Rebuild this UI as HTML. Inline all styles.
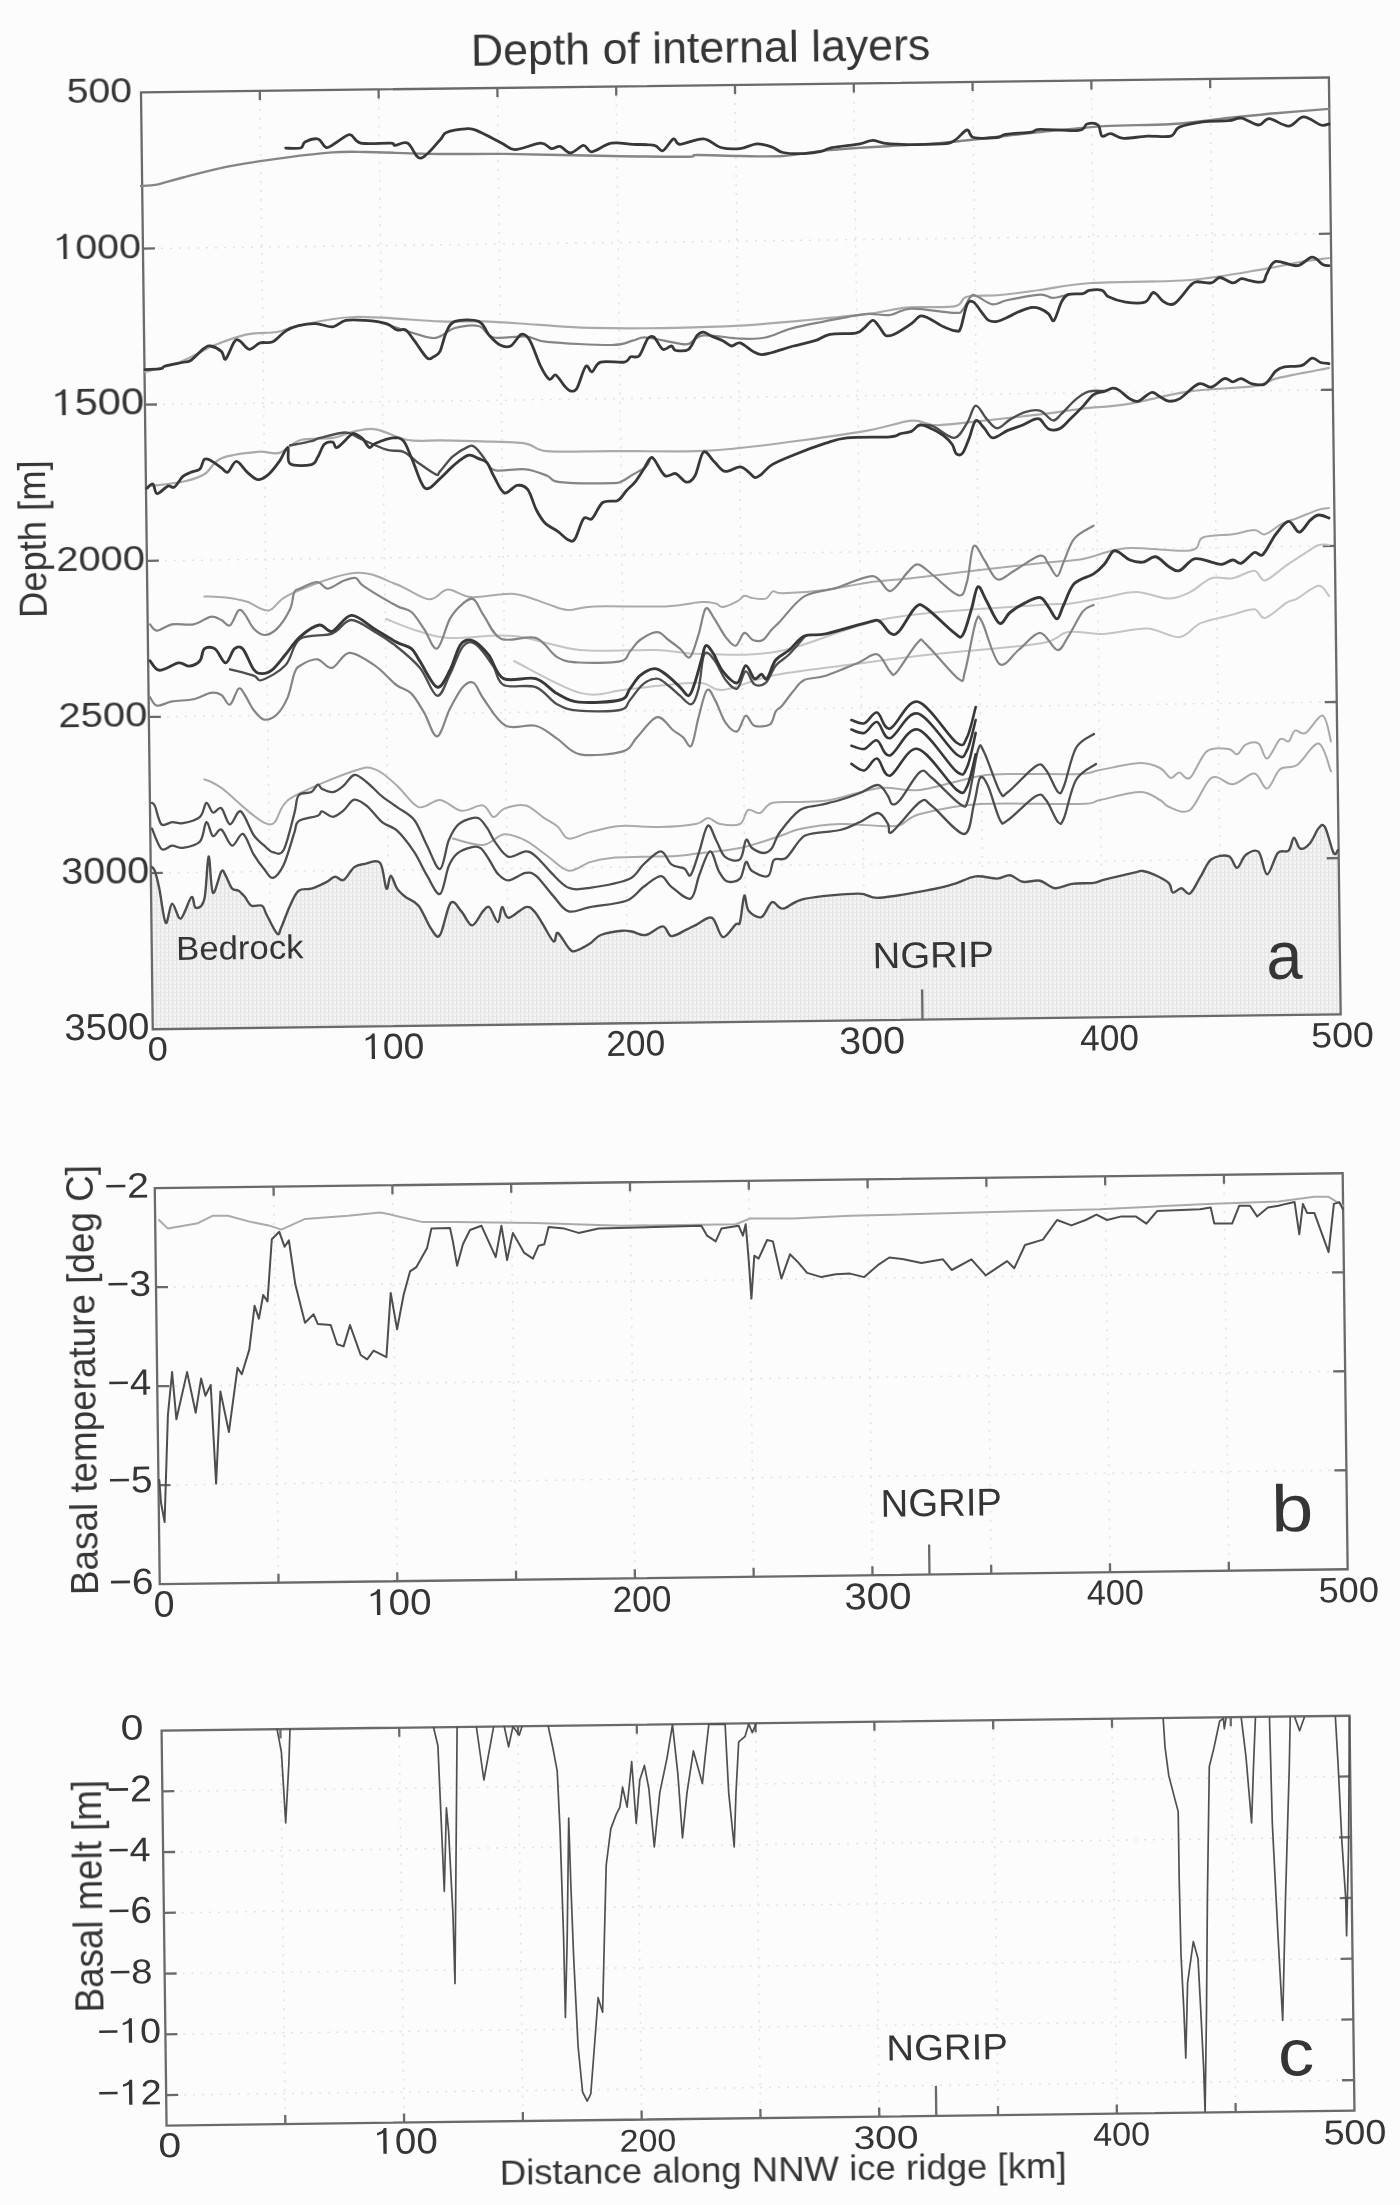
<!DOCTYPE html><html><head><meta charset="utf-8"><style>html,body{margin:0;padding:0;background:#fcfcfc;}svg{display:block;}text{font-family:"Liberation Sans",sans-serif;}</style></head><body>
<svg width="1400" height="2205" viewBox="0 0 1400 2205">
<rect width="1400" height="2205" fill="#fcfcfc"/>
<defs><filter id="sb" filterUnits="userSpaceOnUse" x="0" y="0" width="1400" height="2205" color-interpolation-filters="sRGB"><feGaussianBlur stdDeviation="0.55"/></filter></defs><g filter="url(#sb)">
<g transform="rotate(-0.72 141 92.5)" fill="none">
<g stroke="#e2e2e2" stroke-width="1.5" stroke-dasharray="2 7">
<line x1="259.8" y1="92.4" x2="259.8" y2="1029.3"/>
<line x1="378.6" y1="92.4" x2="378.6" y2="1029.3"/>
<line x1="497.4" y1="92.4" x2="497.4" y2="1029.3"/>
<line x1="616.2" y1="92.4" x2="616.2" y2="1029.3"/>
<line x1="735.0" y1="92.4" x2="735.0" y2="1029.3"/>
<line x1="853.8" y1="92.4" x2="853.8" y2="1029.3"/>
<line x1="972.6" y1="92.4" x2="972.6" y2="1029.3"/>
<line x1="1091.4" y1="92.4" x2="1091.4" y2="1029.3"/>
<line x1="1210.2" y1="92.4" x2="1210.2" y2="1029.3"/>
<line x1="141" y1="248.6" x2="1329" y2="248.6"/>
<line x1="141" y1="404.7" x2="1329" y2="404.7"/>
<line x1="141" y1="560.9" x2="1329" y2="560.9"/>
<line x1="141" y1="717.0" x2="1329" y2="717.0"/>
<line x1="141" y1="873.1" x2="1329" y2="873.1"/>
<line x1="259.8" y1="1188.3" x2="259.8" y2="1584.3"/>
<line x1="378.6" y1="1188.3" x2="378.6" y2="1584.3"/>
<line x1="497.4" y1="1188.3" x2="497.4" y2="1584.3"/>
<line x1="616.2" y1="1188.3" x2="616.2" y2="1584.3"/>
<line x1="735.0" y1="1188.3" x2="735.0" y2="1584.3"/>
<line x1="853.8" y1="1188.3" x2="853.8" y2="1584.3"/>
<line x1="972.6" y1="1188.3" x2="972.6" y2="1584.3"/>
<line x1="1091.4" y1="1188.3" x2="1091.4" y2="1584.3"/>
<line x1="1210.2" y1="1188.3" x2="1210.2" y2="1584.3"/>
<line x1="141" y1="1287.3" x2="1329" y2="1287.3"/>
<line x1="141" y1="1386.3" x2="1329" y2="1386.3"/>
<line x1="141" y1="1485.3" x2="1329" y2="1485.3"/>
<line x1="259.8" y1="1730.8" x2="259.8" y2="2125.7"/>
<line x1="378.6" y1="1730.8" x2="378.6" y2="2125.7"/>
<line x1="497.4" y1="1730.8" x2="497.4" y2="2125.7"/>
<line x1="616.2" y1="1730.8" x2="616.2" y2="2125.7"/>
<line x1="735.0" y1="1730.8" x2="735.0" y2="2125.7"/>
<line x1="853.8" y1="1730.8" x2="853.8" y2="2125.7"/>
<line x1="972.6" y1="1730.8" x2="972.6" y2="2125.7"/>
<line x1="1091.4" y1="1730.8" x2="1091.4" y2="2125.7"/>
<line x1="1210.2" y1="1730.8" x2="1210.2" y2="2125.7"/>
<line x1="141" y1="1791.5" x2="1329" y2="1791.5"/>
<line x1="141" y1="1852.3" x2="1329" y2="1852.3"/>
<line x1="141" y1="1913.0" x2="1329" y2="1913.0"/>
<line x1="141" y1="1973.8" x2="1329" y2="1973.8"/>
<line x1="141" y1="2034.5" x2="1329" y2="2034.5"/>
<line x1="141" y1="2095.2" x2="1329" y2="2095.2"/>
</g>
</g>
<defs><pattern id="ht" x="0" y="0" width="4" height="4" patternUnits="userSpaceOnUse"><rect width="4" height="4" fill="#f4f4f5"/><rect x="0" y="0" width="1.2" height="4" fill="#e2e2e4"/><rect x="0" y="0" width="4" height="1" fill="#e8e8ea"/></pattern></defs>
<polygon points="152.0,867.1 155.0,871.4 159.3,888.6 165.7,922.8 172.1,903.6 180.7,918.6 191.4,897.1 195.7,907.8 204.3,899.3 208.6,856.4 212.9,892.8 221.4,871.4 225.7,875.7 232.1,888.6 238.6,890.7 245.0,897.1 251.4,905.7 262.1,905.7 266.4,914.3 277.1,933.6 281.4,927.1 290.0,905.7 298.6,890.7 311.4,888.6 326.4,882.1 335.0,876.8 343.6,880.0 354.3,867.1 365.0,863.9 380.0,862.8 386.4,888.6 390.7,875.7 397.1,888.6 405.7,897.1 418.6,905.7 431.4,929.3 440.0,935.0 450.7,902.9 461.4,911.4 472.1,925.4 482.9,911.4 489.3,907.1 497.9,922.1 502.1,907.1 508.6,917.8 525.7,907.1 534.3,911.4 542.9,924.3 553.6,941.4 557.8,932.8 568.6,947.8 575.0,951.1 590.0,943.6 600.7,935.0 622.1,930.7 632.8,931.8 645.7,935.0 662.8,926.4 671.4,936.1 686.4,929.6 697.1,924.3 712.1,917.8 722.8,937.1 735.7,924.3 740.0,922.1 744.3,895.7 748.6,910.7 761.4,917.1 772.1,902.1 782.9,908.6 804.3,898.9 857.9,893.6 879.3,897.8 932.8,889.3 954.3,883.9 975.7,876.4 997.1,878.6 1010.0,875.3 1022.8,881.8 1040.0,880.7 1055.0,888.2 1072.1,883.9 1093.6,882.9 1104.3,879.6 1136.4,872.1 1142.9,871.0 1153.6,874.3 1168.6,882.9 1172.8,892.5 1181.4,888.2 1190.0,893.6 1200.7,876.4 1211.4,859.3 1228.6,856.1 1237.1,867.8 1245.7,855.0 1258.6,851.8 1267.1,874.3 1277.9,852.9 1288.6,850.7 1293.9,837.8 1300.3,848.6 1310.0,843.2 1318.6,828.2 1325.0,827.1 1333.6,852.9 1338.0,850.0 1341.0,1015.0 153.6,1028.6" fill="url(#ht)" stroke="none"/>
<g transform="rotate(-0.72 141 92.5)" fill="none">
<g stroke="#6a6a6a" stroke-width="2.3">
<rect x="141" y="92.4" width="1188" height="936.9"/>
<line x1="259.8" y1="92.4" x2="259.8" y2="101.4"/>
<line x1="378.6" y1="92.4" x2="378.6" y2="101.4"/>
<line x1="497.4" y1="92.4" x2="497.4" y2="101.4"/>
<line x1="616.2" y1="92.4" x2="616.2" y2="101.4"/>
<line x1="735.0" y1="92.4" x2="735.0" y2="101.4"/>
<line x1="853.8" y1="92.4" x2="853.8" y2="101.4"/>
<line x1="972.6" y1="92.4" x2="972.6" y2="101.4"/>
<line x1="1091.4" y1="92.4" x2="1091.4" y2="101.4"/>
<line x1="1210.2" y1="92.4" x2="1210.2" y2="101.4"/>
<line x1="141" y1="248.6" x2="153" y2="248.6"/><line x1="1329" y1="248.6" x2="1317" y2="248.6"/>
<line x1="141" y1="404.7" x2="153" y2="404.7"/><line x1="1329" y1="404.7" x2="1317" y2="404.7"/>
<line x1="141" y1="560.9" x2="153" y2="560.9"/><line x1="1329" y1="560.9" x2="1317" y2="560.9"/>
<line x1="141" y1="717.0" x2="153" y2="717.0"/><line x1="1329" y1="717.0" x2="1317" y2="717.0"/>
<line x1="141" y1="873.1" x2="153" y2="873.1"/><line x1="1329" y1="873.1" x2="1317" y2="873.1"/>
<line x1="910.8" y1="1029.3" x2="910.8" y2="999.3"/>
<rect x="141" y="1188.3" width="1188" height="396.0"/>
<line x1="259.8" y1="1188.3" x2="259.8" y2="1197.3"/>
<line x1="259.8" y1="1584.3" x2="259.8" y2="1575.3"/>
<line x1="378.6" y1="1188.3" x2="378.6" y2="1197.3"/>
<line x1="378.6" y1="1584.3" x2="378.6" y2="1575.3"/>
<line x1="497.4" y1="1188.3" x2="497.4" y2="1197.3"/>
<line x1="497.4" y1="1584.3" x2="497.4" y2="1575.3"/>
<line x1="616.2" y1="1188.3" x2="616.2" y2="1197.3"/>
<line x1="616.2" y1="1584.3" x2="616.2" y2="1575.3"/>
<line x1="735.0" y1="1188.3" x2="735.0" y2="1197.3"/>
<line x1="735.0" y1="1584.3" x2="735.0" y2="1575.3"/>
<line x1="853.8" y1="1188.3" x2="853.8" y2="1197.3"/>
<line x1="853.8" y1="1584.3" x2="853.8" y2="1575.3"/>
<line x1="972.6" y1="1188.3" x2="972.6" y2="1197.3"/>
<line x1="972.6" y1="1584.3" x2="972.6" y2="1575.3"/>
<line x1="1091.4" y1="1188.3" x2="1091.4" y2="1197.3"/>
<line x1="1091.4" y1="1584.3" x2="1091.4" y2="1575.3"/>
<line x1="1210.2" y1="1188.3" x2="1210.2" y2="1197.3"/>
<line x1="1210.2" y1="1584.3" x2="1210.2" y2="1575.3"/>
<line x1="141" y1="1287.3" x2="153" y2="1287.3"/><line x1="1329" y1="1287.3" x2="1317" y2="1287.3"/>
<line x1="141" y1="1386.3" x2="153" y2="1386.3"/><line x1="1329" y1="1386.3" x2="1317" y2="1386.3"/>
<line x1="141" y1="1485.3" x2="153" y2="1485.3"/><line x1="1329" y1="1485.3" x2="1317" y2="1485.3"/>
<line x1="910.8" y1="1584.3" x2="910.8" y2="1554.3"/>
<rect x="141" y="1730.8" width="1188" height="394.89999999999986"/>
<line x1="259.8" y1="1730.8" x2="259.8" y2="1739.8"/>
<line x1="259.8" y1="2125.7" x2="259.8" y2="2116.7"/>
<line x1="378.6" y1="1730.8" x2="378.6" y2="1739.8"/>
<line x1="378.6" y1="2125.7" x2="378.6" y2="2116.7"/>
<line x1="497.4" y1="1730.8" x2="497.4" y2="1739.8"/>
<line x1="497.4" y1="2125.7" x2="497.4" y2="2116.7"/>
<line x1="616.2" y1="1730.8" x2="616.2" y2="1739.8"/>
<line x1="616.2" y1="2125.7" x2="616.2" y2="2116.7"/>
<line x1="735.0" y1="1730.8" x2="735.0" y2="1739.8"/>
<line x1="735.0" y1="2125.7" x2="735.0" y2="2116.7"/>
<line x1="853.8" y1="1730.8" x2="853.8" y2="1739.8"/>
<line x1="853.8" y1="2125.7" x2="853.8" y2="2116.7"/>
<line x1="972.6" y1="1730.8" x2="972.6" y2="1739.8"/>
<line x1="972.6" y1="2125.7" x2="972.6" y2="2116.7"/>
<line x1="1091.4" y1="1730.8" x2="1091.4" y2="1739.8"/>
<line x1="1091.4" y1="2125.7" x2="1091.4" y2="2116.7"/>
<line x1="1210.2" y1="1730.8" x2="1210.2" y2="1739.8"/>
<line x1="1210.2" y1="2125.7" x2="1210.2" y2="2116.7"/>
<line x1="141" y1="1791.5" x2="153" y2="1791.5"/><line x1="1329" y1="1791.5" x2="1317" y2="1791.5"/>
<line x1="141" y1="1852.3" x2="153" y2="1852.3"/><line x1="1329" y1="1852.3" x2="1317" y2="1852.3"/>
<line x1="141" y1="1913.0" x2="153" y2="1913.0"/><line x1="1329" y1="1913.0" x2="1317" y2="1913.0"/>
<line x1="141" y1="1973.8" x2="153" y2="1973.8"/><line x1="1329" y1="1973.8" x2="1317" y2="1973.8"/>
<line x1="141" y1="2034.5" x2="153" y2="2034.5"/><line x1="1329" y1="2034.5" x2="1317" y2="2034.5"/>
<line x1="141" y1="2095.2" x2="153" y2="2095.2"/><line x1="1329" y1="2095.2" x2="1317" y2="2095.2"/>
<line x1="910.8" y1="2125.7" x2="910.8" y2="2095.7"/>
</g></g>
<path d="M141.0,186.0 C143.7,185.8 150.0,186.0 157.0,184.6 C164.0,183.2 170.7,180.6 182.9,177.5 C195.1,174.4 212.9,169.4 230.0,166.1 C247.1,162.8 268.6,159.9 285.7,157.6 C302.8,155.3 319.6,153.3 332.8,152.4 C346.0,151.5 347.1,151.7 365.0,152.0 C382.9,152.3 416.8,153.7 440.0,154.0 C463.2,154.3 475.7,153.6 504.3,153.9 C532.9,154.2 581.0,155.5 611.4,156.0 C641.8,156.5 672.1,156.9 686.4,156.7 C700.7,156.5 688.1,155.1 697.0,155.0 C705.9,154.9 725.7,155.8 740.0,156.0 C754.3,156.2 768.7,156.9 783.0,156.0 C797.3,155.1 807.9,152.1 825.7,150.4 C843.5,148.7 870.7,147.2 890.0,146.0 C909.3,144.8 916.4,145.2 941.4,142.9 C966.4,140.6 1012.9,134.8 1040.0,132.0 C1067.2,129.2 1082.2,127.4 1104.3,126.1 C1126.4,124.8 1151.4,125.4 1172.8,124.0 C1194.2,122.6 1215.6,119.3 1232.8,117.5 C1250.0,115.7 1259.7,114.6 1275.7,113.2 C1291.7,111.8 1320.1,109.6 1329.0,108.9" fill="none" stroke="#858585" stroke-width="2.4" stroke-linejoin="round" stroke-linecap="round" />
<path d="M285.7,148.1 C288.2,148.1 297.5,149.0 300.7,148.0 C303.9,147.0 302.1,143.5 305.0,142.0 C307.9,140.5 314.4,138.1 318.0,139.0 C321.6,139.9 323.2,147.0 326.4,147.5 C329.6,148.0 333.1,144.2 337.0,142.0 C340.9,139.8 346.1,134.4 350.0,134.6 C353.9,134.8 353.9,141.8 360.7,143.2 C367.5,144.6 385.0,142.8 390.7,143.2 C396.4,143.6 392.1,145.4 395.0,145.4 C397.9,145.4 403.5,141.1 407.8,143.2 C412.1,145.3 415.3,158.7 420.7,158.2 C426.1,157.7 435.7,144.3 440.0,140.0 C444.3,135.7 442.1,134.3 446.4,132.5 C450.7,130.7 460.7,129.2 465.7,128.9 C470.7,128.6 470.3,128.0 476.4,130.4 C482.4,132.8 495.6,140.0 502.0,143.2 C508.4,146.4 508.6,149.6 515.0,149.6 C521.5,149.6 534.6,143.4 540.7,143.2 C546.8,143.0 548.2,148.1 551.4,148.6 C554.6,149.1 556.8,145.7 560.0,146.4 C563.2,147.1 566.8,153.1 570.7,152.9 C574.6,152.7 580.1,145.6 583.6,145.4 C587.1,145.2 587.4,152.2 592.0,151.8 C596.6,151.4 604.6,144.4 611.4,143.2 C618.2,141.9 625.6,143.9 632.8,144.3 C639.9,144.7 649.3,144.3 654.3,145.4 C659.3,146.5 659.6,151.8 662.8,150.7 C666.0,149.6 670.6,140.0 673.5,138.9 C676.4,137.8 675.0,144.3 680.0,144.3 C685.0,144.3 696.7,138.4 703.5,138.9 C710.3,139.4 714.6,145.9 720.7,147.5 C726.8,149.1 734.0,149.2 740.0,148.6 C746.0,148.0 751.7,144.2 757.0,143.9 C762.3,143.7 767.7,145.7 772.0,147.1 C776.3,148.5 777.5,151.4 782.9,152.5 C788.3,153.6 797.9,153.8 804.3,153.6 C810.7,153.4 816.8,152.4 821.4,151.4 C826.0,150.4 825.6,148.8 832.0,147.6 C838.4,146.3 853.2,145.1 860.0,143.9 C866.8,142.7 867.8,140.3 872.8,140.3 C877.8,140.3 878.6,143.3 890.0,143.9 C901.4,144.5 930.7,144.4 941.4,143.9 C952.1,143.4 950.0,143.0 954.3,140.7 C958.6,138.4 963.8,130.5 967.0,130.0 C970.2,129.5 968.6,136.2 973.6,137.5 C978.6,138.8 991.6,138.0 997.0,137.5 C1002.4,137.0 1000.0,135.2 1005.7,134.3 C1011.4,133.4 1025.7,132.9 1031.4,132.1 C1037.1,131.3 1032.1,129.6 1040.0,129.3 C1047.9,129.0 1070.8,131.3 1078.6,130.4 C1086.4,129.5 1083.8,124.9 1087.0,124.0 C1090.2,123.1 1095.5,123.0 1098.0,125.0 C1100.5,127.0 1099.9,134.7 1102.0,136.1 C1104.1,137.5 1107.1,133.2 1110.7,133.6 C1114.3,134.0 1117.5,137.9 1123.6,138.3 C1129.6,138.7 1139.2,136.5 1147.0,136.1 C1154.8,135.7 1165.3,137.6 1170.7,136.1 C1176.1,134.6 1174.0,129.5 1179.3,127.1 C1184.6,124.7 1194.6,122.9 1202.8,121.8 C1211.0,120.7 1222.2,121.3 1228.6,120.7 C1235.0,120.1 1236.4,117.4 1241.4,118.1 C1246.4,118.8 1253.9,124.9 1258.6,125.0 C1263.2,125.1 1264.3,118.4 1269.3,118.6 C1274.3,118.8 1282.9,126.4 1288.6,126.1 C1294.3,125.8 1298.2,117.1 1303.6,116.9 C1308.9,116.7 1316.5,123.8 1320.7,125.0 C1324.9,126.2 1327.6,124.2 1329.0,124.0" fill="none" stroke="#383838" stroke-width="2.8" stroke-linejoin="round" stroke-linecap="round" />
<path d="M145.0,372.0 C150.8,370.3 168.3,366.5 180.0,362.0 C191.7,357.5 203.8,349.6 215.0,345.0 C226.2,340.4 236.7,336.5 247.0,334.3 C257.3,332.1 268.4,333.4 277.0,332.0 C285.6,330.6 285.8,328.2 298.6,325.7 C311.4,323.2 330.4,317.7 354.0,317.0 C377.6,316.3 418.5,320.7 440.0,321.4 C461.5,322.1 466.8,320.9 482.9,321.4 C499.0,321.9 518.5,323.5 536.4,324.6 C554.2,325.7 566.8,327.3 590.0,327.9 C613.2,328.4 650.7,328.3 675.7,327.9 C700.7,327.5 718.6,326.9 740.0,325.7 C761.4,324.4 782.9,322.4 804.3,320.4 C825.7,318.4 851.5,316.0 868.6,313.9 C885.7,311.8 892.7,308.8 907.0,307.5 C921.3,306.2 944.3,308.2 954.3,306.4 C964.3,304.6 959.4,298.7 967.0,296.8 C974.6,294.9 987.8,296.1 1000.0,295.0 C1012.2,293.9 1024.8,292.0 1040.0,290.0 C1055.2,288.0 1066.4,284.7 1091.4,283.0 C1116.4,281.3 1161.1,282.4 1190.0,280.0 C1218.9,277.6 1246.7,271.9 1265.0,268.9 C1283.3,265.9 1289.3,263.8 1300.0,262.0 C1310.7,260.2 1324.2,258.7 1329.0,258.0" fill="none" stroke="#aaaaaa" stroke-width="2.2" stroke-linejoin="round" stroke-linecap="round" />
<path d="M380.0,322.0 C382.8,323.0 388.8,325.3 397.0,327.9 C405.2,330.5 421.8,336.1 429.0,337.5 C436.2,338.9 435.7,338.0 440.0,336.4 C444.3,334.8 448.6,329.7 455.0,328.0 C461.4,326.3 472.2,324.4 478.6,326.0 C485.0,327.6 485.8,335.8 493.6,337.5 C501.5,339.2 516.8,335.7 525.7,336.4 C534.6,337.1 532.7,340.4 547.0,341.8 C561.3,343.2 597.1,345.2 611.4,345.0 C625.7,344.8 627.1,341.9 632.8,340.7 C638.5,339.4 638.6,337.1 645.7,337.5 C652.9,337.9 668.6,341.8 675.7,342.9 C682.9,344.0 684.0,345.1 688.6,343.9 C693.2,342.6 694.9,336.3 703.5,335.4 C712.1,334.5 729.6,338.2 740.0,338.6 C750.4,339.0 756.8,339.3 765.7,337.5 C774.6,335.7 780.1,331.3 793.6,327.9 C807.1,324.5 834.5,319.4 847.0,317.1 C859.5,314.8 861.4,314.2 868.6,313.9 C875.8,313.5 882.9,315.9 890.0,315.0 C897.1,314.1 900.7,309.0 911.4,308.6 C922.1,308.2 945.7,312.7 954.3,312.9 C962.9,313.1 959.9,312.5 962.8,309.6 C965.6,306.7 968.9,297.8 971.4,295.7 C973.9,293.6 974.3,295.4 977.9,296.8 C981.5,298.2 987.8,303.8 992.8,304.3 C997.8,304.8 999.9,301.6 1007.8,300.0 C1015.7,298.4 1032.5,295.0 1040.0,294.6 C1047.5,294.2 1048.2,297.9 1052.9,297.9 C1057.6,297.9 1065.4,295.2 1067.9,294.6" fill="none" stroke="#858585" stroke-width="2.2" stroke-linejoin="round" stroke-linecap="round" />
<path d="M145.0,369.6 C147.7,369.4 158.1,369.2 161.4,368.6 C164.7,368.0 161.1,367.1 165.0,366.0 C168.9,364.9 180.6,363.0 185.0,362.0 C189.4,361.0 188.2,362.3 191.4,360.0 C194.6,357.7 201.1,350.5 204.3,348.2 C207.5,345.9 207.8,345.5 210.7,346.0 C213.5,346.5 218.9,349.2 221.4,351.4 C223.9,353.6 223.5,360.6 225.7,359.0 C227.8,357.4 232.0,344.9 234.3,341.8 C236.6,338.8 237.1,339.4 239.6,340.7 C242.1,341.9 245.9,348.9 249.3,349.3 C252.7,349.7 256.1,344.1 260.0,342.9 C263.9,341.6 268.5,343.8 272.8,341.8 C277.1,339.8 281.4,333.7 285.7,331.0 C290.0,328.3 293.6,326.9 298.6,325.7 C303.6,324.5 310.0,323.4 315.7,323.6 C321.4,323.8 327.8,327.3 332.8,326.8 C337.8,326.3 340.3,321.5 345.7,320.4 C351.1,319.3 358.2,319.9 365.0,320.4 C371.8,320.9 381.1,322.0 386.4,323.6 C391.7,325.2 393.8,328.9 397.0,330.0 C400.2,331.1 402.8,328.2 405.7,330.0 C408.6,331.8 410.8,336.1 414.3,340.7 C417.9,345.3 423.8,355.2 427.0,357.9 C430.2,360.6 431.4,357.9 433.6,356.8 C435.8,355.7 437.9,355.5 440.0,351.4 C442.1,347.3 443.9,337.0 446.4,332.0 C448.9,327.0 449.6,323.2 455.0,321.4 C460.4,319.6 472.9,319.1 478.6,321.4 C484.3,323.7 485.7,331.5 489.3,335.4 C492.9,339.3 496.4,343.2 500.0,345.0 C503.6,346.8 507.1,347.8 510.7,346.0 C514.3,344.2 518.2,335.2 521.4,334.3 C524.6,333.4 526.8,335.4 530.0,340.7 C533.2,346.0 537.5,360.0 540.7,366.4 C543.9,372.8 546.8,377.9 549.3,379.3 C551.8,380.7 553.2,373.9 555.7,375.0 C558.2,376.1 561.8,383.0 564.3,385.7 C566.8,388.4 568.6,390.6 570.7,391.0 C572.8,391.4 574.6,392.0 577.1,387.9 C579.6,383.8 583.2,369.1 585.7,366.4 C588.2,363.7 589.6,372.5 592.1,371.8 C594.6,371.1 595.3,363.7 600.7,362.1 C606.1,360.5 619.3,363.0 624.3,362.1 C629.3,361.2 628.2,357.9 630.7,356.8 C633.2,355.7 636.4,358.7 639.3,355.7 C642.1,352.7 645.3,341.6 647.8,338.6 C650.3,335.6 651.8,335.7 654.3,337.5 C656.8,339.3 659.9,347.9 662.8,349.3 C665.6,350.7 669.2,345.8 671.4,346.0 C673.5,346.2 672.8,349.8 675.7,350.4 C678.6,350.9 685.0,351.8 688.6,349.3 C692.2,346.8 694.6,338.3 697.1,335.4 C699.6,332.5 701.0,331.9 703.5,332.1 C706.0,332.3 708.9,335.0 712.1,336.4 C715.3,337.8 719.6,339.1 722.8,340.7 C726.0,342.3 728.5,345.6 731.4,346.0 C734.3,346.4 736.4,342.0 740.0,342.9 C743.6,343.8 749.3,349.4 752.9,351.4 C756.5,353.3 758.2,354.4 761.4,354.6 C764.6,354.8 766.6,353.9 772.0,352.5 C777.4,351.1 786.4,348.0 793.6,346.0 C800.8,344.0 808.9,342.6 815.0,340.7 C821.1,338.8 823.2,335.6 830.0,334.3 C836.8,333.1 850.0,334.3 855.7,333.2 C861.4,332.1 861.4,330.0 864.3,327.9 C867.1,325.8 870.3,320.6 872.8,320.4 C875.3,320.2 877.1,324.3 879.3,326.8 C881.4,329.3 883.2,334.1 885.7,335.4 C888.2,336.6 890.0,336.3 894.3,334.3 C898.6,332.3 907.1,326.6 911.4,323.6 C915.7,320.6 917.1,317.0 920.0,316.1 C922.9,315.2 924.7,316.4 928.6,318.2 C932.5,320.0 939.0,324.7 943.6,326.8 C948.2,328.9 953.5,330.8 956.4,331.0 C959.2,331.2 958.9,332.3 960.7,327.9 C962.5,323.4 965.0,308.6 967.1,304.3 C969.2,300.0 971.1,300.7 973.6,302.1 C976.1,303.5 979.6,309.8 982.1,312.9 C984.6,315.9 986.1,319.0 988.6,320.4 C991.1,321.8 993.5,322.1 997.1,321.4 C1000.7,320.7 1006.4,317.7 1010.0,316.1 C1013.6,314.5 1015.0,313.2 1018.6,311.8 C1022.2,310.4 1027.8,308.0 1031.4,307.5 C1035.0,307.0 1037.1,307.5 1040.0,308.6 C1042.9,309.7 1046.3,311.9 1048.6,313.9 C1050.9,315.9 1051.9,322.4 1054.0,320.4 C1056.1,318.4 1059.1,306.4 1061.4,302.1 C1063.7,297.8 1064.3,296.0 1067.9,294.6 C1071.5,293.2 1079.3,294.3 1082.9,293.6 C1086.5,292.9 1086.1,290.9 1089.3,290.4 C1092.5,289.9 1098.9,289.3 1102.1,290.4 C1105.3,291.5 1104.7,294.9 1108.6,296.8 C1112.5,298.8 1119.6,301.2 1125.7,302.1 C1131.8,303.0 1140.3,303.7 1145.0,302.1 C1149.7,300.5 1150.4,292.5 1153.6,292.5 C1156.8,292.5 1160.7,300.3 1164.3,302.1 C1167.9,303.9 1170.7,305.9 1175.0,303.2 C1179.3,300.5 1186.4,289.7 1190.0,286.1 C1193.6,282.5 1192.8,282.3 1196.4,281.8 C1200.0,281.3 1207.5,283.6 1211.4,282.9 C1215.3,282.2 1216.4,277.5 1220.0,277.5 C1223.6,277.5 1229.2,282.7 1232.8,282.9 C1236.4,283.1 1238.5,279.0 1241.4,278.6 C1244.3,278.2 1246.4,280.2 1250.0,280.7 C1253.6,281.2 1260.0,283.1 1262.8,281.8 C1265.6,280.6 1264.9,276.6 1267.1,273.2 C1269.2,269.8 1270.7,262.6 1275.7,261.4 C1280.7,260.1 1291.0,266.4 1297.1,265.7 C1303.2,265.0 1307.8,257.3 1312.1,257.1 C1316.4,256.9 1320.0,263.2 1322.8,264.6 C1325.6,266.0 1328.0,265.5 1329.0,265.7" fill="none" stroke="#383838" stroke-width="2.8" stroke-linejoin="round" stroke-linecap="round" />
<path d="M150.0,486.0 C155.5,485.3 173.8,483.8 182.9,481.8 C192.0,479.9 197.9,478.2 204.3,474.3 C210.7,470.4 212.5,461.9 221.4,458.2 C230.3,454.4 248.2,452.7 257.8,451.8 C267.4,450.9 272.2,454.9 279.3,452.9 C286.4,450.9 291.8,442.5 300.7,440.0 C309.6,437.5 323.9,439.3 332.8,437.9 C341.7,436.5 347.2,432.8 354.3,431.4 C361.4,430.0 366.8,427.9 375.7,429.3 C384.6,430.7 397.1,438.1 407.8,440.0 C418.5,441.9 427.5,440.2 440.0,440.4 C452.5,440.6 468.6,440.9 482.9,441.4 C497.2,441.9 515.0,442.0 525.7,443.6 C536.4,445.2 532.8,449.9 547.1,451.1 C561.4,452.4 586.4,451.1 611.4,451.1 C636.4,451.1 675.7,451.6 697.1,451.1 C718.5,450.6 722.1,449.9 740.0,448.0 C757.9,446.1 782.9,442.9 804.3,440.0 C825.7,437.1 850.8,433.6 868.6,430.4 C886.5,427.2 900.7,421.6 911.4,420.7 C922.1,419.8 925.6,424.5 932.8,425.0 C939.9,425.5 936.4,425.7 954.3,423.9 C972.2,422.1 1018.6,416.9 1040.0,414.3 C1061.4,411.8 1068.6,410.3 1082.9,408.6 C1097.2,406.9 1107.9,407.2 1125.7,404.3 C1143.5,401.4 1168.6,394.4 1190.0,391.4 C1211.4,388.4 1240.0,388.2 1254.3,386.1 C1268.6,384.0 1265.0,381.3 1275.7,378.6 C1286.4,375.9 1309.7,371.8 1318.6,370.0 C1327.5,368.2 1327.3,368.3 1329.0,368.0" fill="none" stroke="#aaaaaa" stroke-width="2.2" stroke-linejoin="round" stroke-linecap="round" />
<path d="M487.1,462.9 C488.5,464.1 489.3,469.3 495.7,470.4 C502.1,471.5 517.1,468.4 525.7,469.3 C534.3,470.2 541.4,473.6 547.1,475.7 C552.8,477.8 549.3,480.9 560.0,482.1 C570.7,483.4 601.0,483.4 611.4,483.2 C621.8,483.0 618.5,482.5 622.1,481.1 C625.7,479.7 628.9,476.9 632.8,474.6 C636.7,472.3 642.8,469.5 645.7,467.1 C648.6,464.7 649.3,461.2 650.0,460.0" fill="none" stroke="#858585" stroke-width="2.2" stroke-linejoin="round" stroke-linecap="round" />
<path d="M290.0,445.4 C293.6,444.7 306.4,442.4 311.4,441.1 C316.4,439.9 314.3,439.3 320.0,437.9 C325.7,436.5 339.3,432.5 345.7,432.5 C352.1,432.5 351.8,435.0 358.6,437.9 C365.4,440.8 378.9,447.3 386.4,449.6 C393.9,451.9 398.6,449.8 403.6,451.8 C408.6,453.8 411.0,457.6 416.4,461.4 C421.8,465.1 431.8,472.6 435.7,474.3 C439.6,476.0 437.1,474.4 440.0,471.4 C442.9,468.4 448.2,460.5 452.9,456.4 C457.5,452.3 464.3,448.4 467.9,446.8 C471.5,445.2 471.8,445.2 474.3,446.8 C476.8,448.4 480.8,453.7 482.9,456.4 C485.0,459.1 486.4,461.8 487.1,462.9" fill="none" stroke="#4e4e4e" stroke-width="2.4" stroke-linejoin="round" stroke-linecap="round" />
<path d="M920.0,425.0 C922.1,425.2 927.1,424.0 932.8,426.1 C938.5,428.2 948.6,438.4 954.3,437.9 C960.0,437.4 963.5,428.3 967.1,422.9 C970.7,417.5 972.5,406.4 975.7,405.7 C978.9,405.0 982.8,414.9 986.4,418.6 C990.0,422.4 993.2,428.0 997.1,428.2 C1001.0,428.4 1005.4,422.3 1010.0,419.6 C1014.6,416.9 1020.0,413.6 1025.0,412.1 C1030.0,410.6 1035.3,409.3 1040.0,410.7 C1044.7,412.1 1049.3,419.9 1052.9,420.4 C1056.5,420.9 1057.5,417.5 1061.4,413.9 C1065.3,410.3 1071.8,402.6 1076.4,398.9 C1081.1,395.1 1084.7,392.7 1089.3,391.4 C1093.9,390.1 1101.5,391.1 1104.0,391.0" fill="none" stroke="#4e4e4e" stroke-width="2.4" stroke-linejoin="round" stroke-linecap="round" />
<path d="M147.0,488.2 C148.0,487.5 151.2,483.0 152.9,483.9 C154.6,484.8 154.6,493.2 157.1,493.6 C159.6,494.0 165.0,487.2 167.9,486.1 C170.8,485.0 171.8,488.7 174.3,487.1 C176.8,485.5 180.1,478.9 182.9,476.4 C185.8,473.9 188.6,473.4 191.4,472.1 C194.2,470.9 197.8,471.0 200.0,468.9 C202.2,466.8 202.5,460.7 204.3,459.3 C206.1,457.9 207.8,459.0 210.7,460.4 C213.5,461.8 218.6,465.9 221.4,467.9 C224.2,469.8 225.3,473.2 227.8,472.1 C230.3,471.0 233.2,461.4 236.4,461.4 C239.6,461.4 243.5,469.1 247.1,472.1 C250.7,475.1 254.2,479.2 257.8,479.6 C261.4,480.0 265.0,477.3 268.6,474.3 C272.2,471.3 276.1,465.9 279.3,461.4 C282.5,456.9 286.0,447.1 287.8,447.5 C289.6,447.9 286.1,460.8 290.0,463.6 C293.9,466.5 306.8,465.7 311.4,464.6 C316.0,463.5 315.6,460.5 317.8,457.1 C320.0,453.7 321.8,446.8 324.3,444.3 C326.8,441.8 330.7,441.6 332.8,442.1 C334.9,442.6 334.2,448.6 337.1,447.5 C340.0,446.4 347.1,438.0 350.0,435.7 C352.9,433.4 352.2,433.1 354.3,433.6 C356.4,434.1 360.3,436.6 362.8,438.9 C365.3,441.2 367.2,446.8 369.3,447.5 C371.4,448.2 371.8,444.8 375.7,443.2 C379.6,441.6 388.1,438.2 392.8,437.9 C397.5,437.5 400.4,437.5 403.6,441.1 C406.8,444.7 408.5,451.5 412.1,459.3 C415.7,467.1 420.4,485.0 425.0,488.2 C429.6,491.4 435.4,482.3 440.0,478.6 C444.6,474.9 448.2,470.0 452.9,466.1 C457.5,462.2 463.6,456.6 467.9,455.4 C472.2,454.1 475.4,457.4 478.6,458.6 C481.8,459.9 484.6,460.0 487.1,462.9 C489.6,465.8 490.7,470.7 493.6,475.7 C496.5,480.7 500.4,491.3 504.3,492.9 C508.2,494.5 513.2,485.9 517.1,485.4 C521.0,484.8 524.6,485.5 527.8,489.6 C531.0,493.7 533.5,504.4 536.4,510.0 C539.3,515.5 541.4,519.3 545.0,522.9 C548.6,526.5 553.9,528.5 557.8,531.4 C561.7,534.2 565.7,538.8 568.6,540.0 C571.5,541.2 572.5,542.5 575.0,538.9 C577.5,535.3 580.8,522.0 583.6,518.6 C586.5,515.2 588.9,521.3 592.1,518.6 C595.3,515.9 598.5,505.5 602.8,502.5 C607.1,499.5 613.9,502.4 617.8,500.4 C621.7,498.4 623.5,493.8 626.4,490.7 C629.3,487.6 632.1,485.7 635.0,482.1 C637.9,478.5 641.1,473.2 643.6,469.3 C646.1,465.4 648.2,460.2 650.0,458.6 C651.8,457.0 651.8,456.8 654.3,459.6 C656.8,462.5 661.4,473.4 665.0,475.7 C668.6,478.0 672.1,472.5 675.7,473.6 C679.3,474.7 683.2,481.8 686.4,482.1 C689.6,482.5 692.1,480.7 695.0,475.7 C697.9,470.7 700.3,454.4 703.5,452.1 C706.7,449.8 710.7,458.6 714.3,461.8 C717.9,465.0 720.7,470.6 725.0,471.4 C729.3,472.2 736.1,466.7 740.0,466.8 C743.9,466.9 746.1,470.3 748.6,472.1 C751.1,473.9 752.9,477.1 755.0,477.5 C757.1,477.9 758.5,476.4 761.4,474.3 C764.2,472.2 766.7,467.8 772.1,464.6 C777.5,461.4 784.7,458.6 793.6,455.0 C802.5,451.4 816.8,446.1 825.7,443.2 C834.6,440.3 836.4,439.0 847.1,437.9 C857.8,436.8 881.1,437.5 890.0,436.8 C898.9,436.1 897.1,434.5 900.7,433.6 C904.3,432.7 908.2,432.8 911.4,431.4 C914.6,430.0 916.4,425.4 920.0,425.0 C923.6,424.6 928.9,427.5 932.8,429.3 C936.7,431.1 940.4,433.2 943.6,435.7 C946.8,438.2 950.0,441.3 952.1,444.3 C954.2,447.3 954.6,452.5 956.4,453.9 C958.2,455.3 960.6,455.6 962.8,452.9 C964.9,450.2 967.1,443.3 969.3,437.9 C971.4,432.5 973.2,422.3 975.7,420.7 C978.2,419.1 981.4,425.3 984.3,428.2 C987.1,431.1 988.9,437.5 992.8,437.9 C996.7,438.3 1002.8,432.5 1007.8,430.4 C1012.8,428.2 1018.5,426.8 1022.8,425.0 C1027.1,423.2 1030.7,420.6 1033.6,419.6 C1036.5,418.7 1037.5,417.8 1040.0,419.3 C1042.5,420.9 1045.4,427.3 1048.6,428.9 C1051.8,430.5 1055.7,430.5 1059.3,428.9 C1062.9,427.3 1066.1,423.1 1070.0,419.3 C1073.9,415.6 1079.0,410.5 1082.9,406.4 C1086.8,402.3 1090.0,397.1 1093.6,394.6 C1097.2,392.1 1101.1,392.5 1104.3,391.4 C1107.5,390.3 1110.4,388.4 1112.9,388.2 C1115.4,388.0 1116.5,388.6 1119.3,390.4 C1122.1,392.2 1126.8,397.1 1130.0,398.9 C1133.2,400.7 1135.0,402.2 1138.6,401.1 C1142.2,400.0 1147.8,393.2 1151.4,392.5 C1155.0,391.8 1157.1,395.4 1160.0,396.8 C1162.9,398.2 1165.4,400.8 1168.6,401.1 C1171.8,401.5 1174.3,401.8 1179.3,398.9 C1184.3,396.0 1193.2,385.9 1198.6,383.9 C1203.9,381.9 1207.1,388.0 1211.4,387.1 C1215.7,386.2 1220.7,379.5 1224.3,378.6 C1227.9,377.7 1229.9,381.8 1232.8,381.8 C1235.7,381.8 1238.2,378.2 1241.4,378.6 C1244.6,379.0 1248.2,383.0 1252.1,383.9 C1256.0,384.8 1261.1,386.0 1265.0,383.9 C1268.9,381.8 1272.5,374.0 1275.7,371.1 C1278.9,368.2 1280.0,367.7 1284.3,366.8 C1288.6,365.9 1296.8,367.1 1301.4,365.7 C1306.0,364.3 1308.9,358.7 1312.1,358.2 C1315.3,357.7 1317.9,361.6 1320.7,362.5 C1323.5,363.4 1327.6,363.4 1329.0,363.6" fill="none" stroke="#383838" stroke-width="2.8" stroke-linejoin="round" stroke-linecap="round" />
<path d="M204.3,596.4 C207.9,596.6 218.6,596.6 225.7,597.5 C232.8,598.4 239.9,599.6 247.1,601.8 C254.2,603.9 261.5,611.6 268.6,610.4 C275.8,609.1 275.7,600.5 290.0,594.3 C304.3,588.0 336.6,574.6 354.3,572.9 C372.0,571.2 384.0,579.9 396.4,584.3 C408.8,588.7 420.0,598.4 428.6,599.3 C437.2,600.2 440.7,590.0 447.8,589.6 C454.9,589.2 460.3,596.4 471.4,597.1 C482.5,597.8 501.8,592.8 514.3,593.9 C526.8,595.0 537.5,600.9 546.4,603.6 C555.3,606.3 559.9,609.5 567.9,610.0 C575.9,610.5 578.0,607.0 594.3,606.4 C610.6,605.8 647.9,607.1 665.7,606.4 C683.6,605.7 693.1,602.6 701.4,602.1 C709.7,601.6 712.1,602.8 715.7,603.6 C719.3,604.4 719.3,607.5 722.9,607.1 C726.5,606.7 733.5,603.3 737.1,601.4 C740.7,599.5 741.9,596.3 744.3,595.7 C746.7,595.1 747.8,597.4 751.4,597.9 C755.0,598.4 762.1,599.7 765.7,598.6 C769.3,597.5 770.0,592.3 772.9,591.4 C775.8,590.5 774.1,593.4 782.9,593.2 C791.7,593.0 811.4,591.8 825.7,590.0 C840.0,588.2 854.3,584.5 868.6,582.5 C882.9,580.5 897.1,579.8 911.4,578.2 C925.7,576.6 932.9,575.4 954.3,572.9 C975.7,570.4 1018.6,565.5 1040.0,563.2 C1061.4,560.9 1068.6,561.4 1082.9,558.9 C1097.2,556.4 1107.9,549.6 1125.7,548.2 C1143.5,546.8 1177.2,552.2 1190.0,550.4 C1202.8,548.6 1195.7,540.2 1202.8,537.5 C1209.9,534.8 1224.2,535.5 1232.8,534.3 C1241.4,533.0 1248.9,530.0 1254.3,530.0 C1259.7,530.0 1260.4,535.4 1265.0,534.3 C1269.6,533.2 1276.8,526.3 1282.1,523.6 C1287.4,520.9 1291.0,520.5 1297.1,518.2 C1303.2,515.9 1313.3,511.3 1318.6,509.6 C1323.9,507.9 1327.3,508.3 1329.0,508.0" fill="none" stroke="#aaaaaa" stroke-width="2.0" stroke-linejoin="round" stroke-linecap="round" />
<path d="M386.0,619.0 C391.3,621.0 407.3,627.8 418.0,631.0 C428.7,634.2 434.0,637.2 450.0,638.0 C466.0,638.8 492.3,634.0 514.0,636.0 C535.7,638.0 556.2,647.7 580.0,650.0 C603.8,652.3 637.0,649.3 657.0,650.0 C677.0,650.7 679.5,653.8 700.0,654.0 C720.5,654.2 748.3,657.0 780.0,651.0 C811.7,645.0 846.7,625.7 890.0,618.0 C933.3,610.3 1010.3,607.4 1040.0,605.0 C1069.7,602.6 1057.3,605.1 1068.0,603.9 C1078.7,602.6 1092.9,599.5 1104.3,597.5 C1115.7,595.5 1125.7,591.9 1136.4,592.1 C1147.1,592.3 1159.7,598.6 1168.6,598.6 C1177.5,598.6 1182.9,595.5 1190.0,592.1 C1197.1,588.7 1204.3,580.5 1211.4,578.2 C1218.5,575.9 1225.7,579.5 1232.8,578.2 C1239.9,577.0 1248.9,570.3 1254.3,570.7 C1259.7,571.1 1259.7,581.3 1265.0,580.4 C1270.3,579.5 1279.3,570.2 1286.4,565.4 C1293.5,560.6 1302.4,554.8 1307.8,551.4 C1313.2,548.0 1315.1,546.1 1318.6,545.0 C1322.1,543.9 1327.3,545.0 1329.0,545.0" fill="none" stroke="#c4c4c4" stroke-width="2.0" stroke-linejoin="round" stroke-linecap="round" />
<path d="M514.0,661.0 C525.0,666.3 561.9,688.1 580.0,692.9 C598.1,697.7 609.8,691.2 622.9,690.0 C636.0,688.8 645.5,686.9 658.6,685.7 C671.7,684.5 690.7,682.2 701.4,682.9 C712.1,683.6 711.1,691.2 722.9,690.0 C734.7,688.8 751.3,679.9 772.0,675.7 C792.7,671.5 820.2,668.6 847.0,665.0 C873.8,661.4 900.6,657.9 932.8,654.3 C965.0,650.7 1017.5,647.3 1040.0,643.6 C1062.5,639.9 1057.2,633.6 1067.9,632.0 C1078.6,630.4 1091.1,634.5 1104.3,633.9 C1117.5,633.3 1134.6,628.1 1147.1,628.6 C1159.6,629.1 1170.4,638.0 1179.3,637.1 C1188.2,636.2 1191.8,627.0 1200.7,623.2 C1209.6,619.5 1223.9,616.9 1232.8,614.6 C1241.7,612.3 1248.9,608.8 1254.3,609.3 C1259.7,609.8 1259.7,619.0 1265.0,617.9 C1270.3,616.8 1281.1,606.1 1286.4,602.9 C1291.8,599.7 1291.7,601.5 1297.1,598.6 C1302.5,595.7 1313.3,586.1 1318.6,585.7 C1323.9,585.3 1327.3,594.3 1329.0,596.0" fill="none" stroke="#c4c4c4" stroke-width="2.0" stroke-linejoin="round" stroke-linecap="round" />
<path d="M150.0,624.3 C151.2,625.4 153.4,630.7 157.1,630.7 C160.8,630.7 166.0,625.4 172.1,624.3 C178.2,623.2 187.2,625.5 193.6,624.3 C200.0,623.0 206.1,617.5 210.7,616.8 C215.3,616.1 218.2,618.6 221.4,620.0 C224.6,621.4 227.1,627.0 230.0,625.4 C232.9,623.8 236.1,612.2 238.6,610.4 C241.1,608.6 242.5,611.6 245.0,614.6 C247.5,617.6 250.4,625.2 253.6,628.6 C256.8,632.0 260.4,635.0 264.3,635.0 C268.2,635.0 272.8,632.9 277.1,628.6 C281.4,624.3 287.1,615.4 290.0,609.3 C292.9,603.2 292.6,595.5 294.3,592.1 C296.0,588.7 296.2,590.3 300.0,588.6 C303.8,586.9 312.3,582.0 317.0,582.0 C321.7,582.0 323.7,588.8 328.0,588.6 C332.3,588.4 338.4,582.8 343.0,581.0 C347.6,579.2 352.2,577.1 355.7,578.0 C359.2,578.9 357.2,581.8 364.0,586.4 C370.8,591.0 388.5,601.4 396.4,605.7 C404.3,610.0 406.8,608.1 411.4,612.0 C416.0,615.9 420.0,623.2 424.3,629.3 C428.6,635.4 432.8,650.4 437.1,648.6 C441.4,646.8 445.7,626.1 450.0,618.6 C454.3,611.1 459.0,606.8 462.9,603.6 C466.8,600.4 470.0,597.2 473.6,599.3 C477.2,601.4 479.7,609.8 484.3,616.4 C488.9,623.0 492.8,635.3 501.4,638.9 C510.0,642.5 526.4,634.9 535.7,637.9 C545.0,640.9 550.0,653.0 557.1,657.1 C564.2,661.2 568.1,661.8 578.6,662.5 C589.1,663.2 611.4,663.2 620.0,661.4 C628.6,659.5 626.7,655.0 630.0,651.4 C633.3,647.8 635.5,643.2 640.0,640.0 C644.5,636.8 652.3,632.1 657.1,632.1 C661.9,632.1 664.8,637.2 668.6,640.0 C672.4,642.8 676.4,645.8 680.0,648.6 C683.6,651.5 686.9,659.5 690.0,657.1 C693.1,654.7 696.0,642.4 698.6,634.3 C701.2,626.2 703.1,611.2 705.7,608.6 C708.3,606.0 711.0,613.9 714.3,618.6 C717.6,623.4 722.1,632.6 725.7,637.1 C729.3,641.6 732.6,646.4 735.7,645.7 C738.8,645.0 741.4,633.9 744.3,632.9 C747.2,631.9 749.8,638.8 752.9,640.0 C756.0,641.2 759.8,641.7 762.9,640.0 C766.0,638.3 768.5,633.1 771.4,630.0 C774.2,626.9 774.5,627.0 780.0,621.4 C785.5,615.8 794.9,602.0 804.3,596.4 C813.7,590.8 825.0,591.3 836.4,587.9 C847.8,584.5 863.9,575.6 872.8,576.1 C881.7,576.6 884.3,591.6 890.0,591.1 C895.7,590.6 902.5,577.4 907.1,572.9 C911.7,568.4 913.5,563.9 917.8,564.3 C922.1,564.6 926.0,569.8 932.8,575.0 C939.6,580.2 952.9,594.3 958.6,595.4 C964.3,596.5 964.6,589.6 967.1,581.4 C969.6,573.2 970.7,549.9 973.6,546.3 C976.5,542.7 980.4,554.5 984.3,560.0 C988.2,565.5 992.2,577.5 997.2,579.3 C1002.2,581.1 1007.2,574.6 1014.3,570.7 C1021.4,566.8 1034.3,556.8 1040.0,555.7 C1045.7,554.6 1045.8,560.9 1048.6,564.3 C1051.4,567.7 1054.6,576.5 1057.1,576.1 C1059.6,575.7 1060.7,568.4 1063.6,562.1 C1066.5,555.9 1069.3,544.7 1074.3,538.6 C1079.3,532.5 1090.4,527.9 1093.6,525.7" fill="none" stroke="#858585" stroke-width="2.2" stroke-linejoin="round" stroke-linecap="round" />
<path d="M150.0,697.1 C151.2,698.5 153.4,705.0 157.1,705.7 C160.8,706.4 166.0,702.5 172.1,701.4 C178.2,700.3 187.2,700.7 193.6,699.3 C200.0,697.9 206.1,693.6 210.7,692.9 C215.3,692.2 218.2,693.0 221.4,695.0 C224.6,697.0 227.1,705.7 230.0,704.6 C232.9,703.5 236.1,690.2 238.6,688.6 C241.1,687.0 242.5,691.4 245.0,695.0 C247.5,698.6 250.4,705.9 253.6,710.0 C256.8,714.1 260.4,718.9 264.3,719.6 C268.2,720.3 273.2,718.0 277.1,714.3 C281.0,710.5 284.9,703.9 287.8,697.1 C290.7,690.3 292.3,678.8 294.3,673.6 C296.3,668.4 296.2,668.1 300.0,665.7 C303.8,663.3 311.8,658.9 317.1,659.3 C322.5,659.7 326.7,669.0 332.1,667.9 C337.5,666.8 342.2,653.3 349.3,652.9 C356.4,652.5 367.1,660.4 375.0,665.7 C382.9,671.1 390.3,680.4 396.4,685.0 C402.5,689.6 406.8,689.0 411.4,693.6 C416.0,698.2 420.0,705.8 424.3,712.9 C428.6,720.0 432.8,737.1 437.1,736.4 C441.4,735.7 445.7,716.8 450.0,708.6 C454.3,700.4 459.0,691.4 462.9,687.1 C466.8,682.8 470.0,680.8 473.6,682.9 C477.2,685.0 479.0,692.9 484.3,700.0 C489.6,707.1 497.1,721.4 505.7,725.7 C514.3,730.0 527.1,723.6 535.7,725.7 C544.3,727.9 549.7,733.8 557.1,738.6 C564.5,743.4 569.0,752.2 580.0,754.3 C591.0,756.4 613.4,754.3 622.9,751.4 C632.4,748.5 631.4,742.8 637.1,737.1 C642.8,731.4 651.1,718.3 657.1,717.1 C663.1,715.9 668.6,726.7 672.9,730.0 C677.2,733.3 679.8,734.5 682.9,737.1 C686.0,739.7 688.8,749.0 691.4,745.7 C694.0,742.4 696.0,726.4 698.6,717.1 C701.2,707.8 704.2,692.6 707.1,690.0 C710.0,687.4 712.6,695.9 715.7,701.4 C718.8,706.9 722.1,717.9 725.7,722.9 C729.3,727.9 733.8,732.6 737.1,731.4 C740.4,730.2 742.8,716.7 745.7,715.7 C748.6,714.8 750.2,724.3 754.3,725.7 C758.3,727.1 766.4,726.7 770.0,724.3 C773.6,721.9 773.7,714.5 775.7,711.4 C777.7,708.3 779.0,709.2 782.0,705.7 C785.0,702.2 789.9,695.0 793.6,690.7 C797.3,686.4 798.9,682.5 804.3,680.0 C809.6,677.5 816.8,678.6 825.7,675.7 C834.6,672.9 849.3,666.5 857.9,662.9 C866.5,659.3 871.8,652.9 877.1,654.3 C882.5,655.7 886.8,668.4 890.0,671.4 C893.2,674.4 891.8,677.3 896.4,672.5 C901.0,667.7 912.8,647.1 917.8,642.5 C922.8,637.9 919.6,638.5 926.4,644.6 C933.2,650.7 952.2,674.4 958.6,678.9 C965.0,683.4 962.1,680.9 965.0,671.4 C967.9,661.9 972.9,630.3 975.7,622.1 C978.6,613.9 978.2,615.1 982.1,622.1 C986.0,629.1 993.2,659.2 999.3,663.9 C1005.4,668.5 1011.8,655.2 1018.6,650.0 C1025.4,644.8 1033.6,632.9 1040.0,632.9 C1046.4,632.9 1052.5,649.3 1057.2,650.0 C1061.9,650.7 1063.6,643.5 1067.9,637.1 C1072.2,630.7 1078.6,616.8 1082.9,611.4 C1087.2,606.0 1091.8,606.1 1093.6,605.0" fill="none" stroke="#858585" stroke-width="2.2" stroke-linejoin="round" stroke-linecap="round" />
<path d="M230.0,669.3 C233.9,670.4 248.2,673.9 253.6,675.7 C258.9,677.5 256.8,681.8 262.1,680.0 C267.5,678.2 279.4,671.8 285.7,665.0 C292.0,658.2 292.3,644.2 300.0,639.0 C307.7,633.8 323.6,636.8 332.1,633.6 C340.6,630.4 343.9,620.3 351.0,620.0 C358.1,619.7 367.5,627.7 375.0,632.0 C382.5,636.3 388.5,640.0 396.0,646.0 C403.5,652.0 413.1,659.6 420.0,667.9 C426.9,676.2 432.1,694.6 437.1,695.7 C442.1,696.8 445.7,682.5 450.0,674.3 C454.3,666.1 458.6,651.4 462.9,646.4 C467.2,641.4 470.7,641.1 475.7,644.3 C480.7,647.5 488.2,658.9 492.9,665.7 C497.5,672.5 496.5,681.4 503.6,685.0 C510.7,688.6 526.8,683.9 535.7,687.1 C544.6,690.3 550.0,700.4 557.1,704.3 C564.2,708.2 568.1,709.8 578.6,710.7 C589.1,711.7 611.4,711.8 620.0,710.0 C628.6,708.2 626.2,704.3 630.0,700.0 C633.8,695.7 638.4,687.9 642.9,684.3 C647.4,680.7 652.8,678.4 657.1,678.6 C661.4,678.8 664.8,682.9 668.6,685.7 C672.4,688.6 676.2,692.6 680.0,695.7 C683.8,698.8 688.3,705.5 691.4,704.3 C694.5,703.1 696.5,696.9 698.6,688.6 C700.8,680.3 701.7,659.1 704.3,654.3 C706.9,649.5 710.7,655.7 714.3,660.0 C717.9,664.3 721.9,675.2 725.7,680.0 C729.5,684.8 733.8,690.0 737.1,688.6 C740.4,687.2 742.8,672.1 745.7,671.4 C748.6,670.7 751.0,682.4 754.3,684.3 C757.6,686.2 762.1,686.0 765.7,682.9 C769.3,679.8 771.8,670.5 775.7,665.7 C779.6,660.9 784.5,659.1 789.3,654.3 C794.1,649.5 801.8,640.0 804.3,637.1" fill="none" stroke="#4e4e4e" stroke-width="2.3" stroke-linejoin="round" stroke-linecap="round" />
<path d="M150.0,660.7 C151.6,662.3 154.5,669.9 159.3,670.3 C164.1,670.7 173.6,663.6 178.6,662.9 C183.6,662.2 185.7,666.5 189.3,666.1 C192.9,665.7 197.5,663.6 200.0,660.7 C202.5,657.8 201.8,650.9 204.3,648.9 C206.8,646.9 211.4,646.6 215.0,648.9 C218.6,651.2 222.5,662.9 225.7,662.9 C228.9,662.9 231.4,651.2 234.3,648.9 C237.2,646.6 239.7,645.5 242.9,648.9 C246.1,652.3 250.4,665.2 253.6,669.3 C256.8,673.4 258.9,673.6 262.1,673.6 C265.3,673.6 268.9,672.5 272.8,669.3 C276.7,666.1 281.2,659.7 285.7,654.3 C290.2,648.9 294.4,641.7 300.0,636.8 C305.6,631.9 313.9,625.9 319.3,625.0 C324.7,624.1 326.8,633.0 332.1,631.4 C337.5,629.8 344.2,615.8 351.4,615.4 C358.5,615.0 367.5,624.8 375.0,629.3 C382.5,633.8 390.3,638.9 396.4,642.1 C402.5,645.3 407.5,645.4 411.4,648.6 C415.3,651.8 415.7,655.0 420.0,661.4 C424.3,667.8 432.1,685.7 437.1,687.1 C442.1,688.5 446.1,677.1 450.0,670.0 C453.9,662.9 456.8,649.1 460.7,644.3 C464.6,639.5 469.0,639.3 473.6,641.1 C478.2,642.9 483.6,648.8 488.6,655.0 C493.6,661.2 495.8,674.7 503.6,678.6 C511.5,682.5 526.8,676.1 535.7,678.6 C544.6,681.1 550.0,689.7 557.1,693.6 C564.2,697.5 568.1,701.0 578.6,702.1 C589.1,703.2 611.4,702.2 620.0,700.0 C628.6,697.8 626.7,692.6 630.0,688.6 C633.3,684.6 636.0,679.0 640.0,675.7 C644.0,672.4 650.0,668.8 654.3,668.6 C658.6,668.4 661.4,671.2 665.7,674.3 C670.0,677.4 676.2,683.5 680.0,687.1 C683.8,690.7 686.2,696.2 688.6,695.7 C691.0,695.2 692.2,690.2 694.3,684.3 C696.4,678.3 699.5,666.4 701.4,660.0 C703.3,653.6 703.8,646.9 705.7,645.7 C707.6,644.5 710.0,648.6 712.9,652.9 C715.8,657.2 718.9,666.4 722.9,671.4 C726.9,676.4 733.3,683.8 737.1,682.9 C740.9,682.0 742.8,666.4 745.7,665.7 C748.6,665.0 751.7,677.2 754.3,678.6 C756.9,680.0 759.3,674.3 761.4,674.3 C763.5,674.3 764.7,681.0 767.1,678.6 C769.5,676.2 772.0,664.8 775.7,660.0 C779.4,655.2 784.5,654.0 789.3,650.0 C794.1,646.0 798.2,638.8 804.3,636.1 C810.4,633.4 815.0,636.2 825.7,633.9 C836.4,631.6 859.7,624.2 868.6,622.1 C877.5,620.0 875.7,619.3 879.3,621.1 C882.9,622.9 886.8,631.1 890.0,632.9 C893.2,634.7 894.3,636.1 898.6,631.8 C902.9,627.5 911.1,611.0 915.7,607.1 C920.3,603.2 920.0,603.9 926.4,608.2 C932.8,612.5 948.2,628.4 954.3,632.9 C960.4,637.4 959.9,638.9 962.8,635.0 C965.6,631.1 968.9,617.3 971.4,609.3 C973.9,601.3 975.4,588.2 977.9,586.8 C980.4,585.4 982.8,594.6 986.4,600.7 C990.0,606.8 995.4,621.2 999.3,623.2 C1003.2,625.2 1005.7,615.9 1010.0,612.5 C1014.3,609.1 1020.0,605.4 1025.0,602.9 C1030.0,600.4 1036.1,596.8 1040.0,597.5 C1043.9,598.2 1045.8,603.5 1048.6,607.1 C1051.4,610.7 1054.6,619.2 1057.1,618.9 C1059.6,618.5 1060.7,610.9 1063.6,605.0 C1066.5,599.1 1069.3,588.8 1074.3,583.6 C1079.3,578.4 1088.6,577.1 1093.6,573.9 C1098.6,570.7 1101.1,568.0 1104.3,564.3 C1107.5,560.5 1110.4,553.4 1112.9,551.4 C1115.4,549.4 1116.5,551.1 1119.3,552.5 C1122.1,553.9 1126.1,558.4 1130.0,560.0 C1133.9,561.6 1138.6,562.6 1142.9,562.1 C1147.2,561.6 1151.4,556.1 1155.7,556.8 C1160.0,557.5 1164.7,564.1 1168.6,566.4 C1172.5,568.7 1175.0,572.0 1179.3,570.7 C1183.6,569.5 1188.9,560.3 1194.3,558.9 C1199.7,557.5 1206.8,561.2 1211.4,562.1 C1216.0,563.0 1218.5,564.6 1222.1,564.3 C1225.7,563.9 1229.6,560.2 1232.8,560.0 C1236.0,559.8 1237.8,564.5 1241.4,563.2 C1245.0,562.0 1250.7,553.9 1254.3,552.5 C1257.9,551.1 1259.2,557.6 1262.8,554.6 C1266.4,551.6 1271.4,539.8 1275.7,534.3 C1280.0,528.8 1284.7,521.8 1288.6,521.4 C1292.5,521.0 1295.7,532.3 1299.3,532.1 C1302.9,531.9 1306.8,523.2 1310.0,520.4 C1313.2,517.5 1315.4,515.4 1318.6,515.0 C1321.8,514.6 1327.3,517.5 1329.0,518.0" fill="none" stroke="#383838" stroke-width="2.9" stroke-linejoin="round" stroke-linecap="round" />
<path d="M204.3,779.3 C207.2,780.7 210.7,780.4 221.4,787.9 C232.1,795.4 257.2,822.5 268.6,824.3 C280.0,826.1 275.7,807.5 290.0,798.6 C304.3,789.7 340.0,775.5 354.3,770.7 C368.6,765.9 368.6,767.1 375.7,769.6 C382.8,772.1 390.0,779.5 397.1,785.7 C404.2,792.0 411.5,804.7 418.6,807.1 C425.8,809.5 432.9,799.4 440.0,800.0 C447.1,800.6 454.2,809.8 461.4,810.7 C468.5,811.6 477.5,804.3 482.9,805.4 C488.3,806.5 490.0,816.6 493.6,817.1 C497.2,817.6 498.9,810.6 504.3,808.6 C509.7,806.6 519.3,804.0 525.7,805.4 C532.1,806.8 537.5,813.5 542.9,817.1 C548.2,820.7 553.5,823.2 557.8,826.8 C562.1,830.4 563.2,837.7 568.6,838.6 C574.0,839.5 581.4,834.2 590.0,832.1 C598.6,830.0 608.3,826.9 620.0,826.0 C631.7,825.1 647.3,827.3 660.0,827.0 C672.7,826.7 688.0,825.5 696.0,824.0 C704.0,822.5 704.0,818.0 708.0,818.0 C712.0,818.0 714.7,823.0 720.0,824.0 C725.3,825.0 735.3,826.3 740.0,824.0 C744.7,821.7 744.7,811.8 748.0,810.0 C751.3,808.2 756.0,814.2 760.0,813.0 C764.0,811.8 765.3,804.8 772.0,803.0 C778.7,801.2 790.3,802.5 800.0,802.0 C809.7,801.5 816.7,802.3 830.0,800.0 C843.3,797.7 865.0,789.7 880.0,788.0 C895.0,786.3 903.3,792.0 920.0,790.0 C936.7,788.0 963.3,778.7 980.0,776.0 C996.7,773.3 1003.3,774.3 1020.0,774.0 C1036.7,773.7 1066.7,774.7 1080.0,774.0 C1093.3,773.3 1090.0,771.8 1100.0,770.0 C1110.0,768.2 1130.0,763.3 1140.0,763.0 C1150.0,762.7 1154.9,765.5 1160.0,768.0 C1165.1,770.5 1167.5,777.1 1170.7,777.9 C1173.9,778.6 1176.1,772.5 1179.3,772.5 C1182.5,772.5 1185.4,781.5 1190.0,777.9 C1194.6,774.3 1200.7,755.9 1207.1,751.1 C1213.5,746.3 1223.6,748.4 1228.6,748.9 C1233.6,749.4 1234.2,755.0 1237.1,754.3 C1239.9,753.6 1242.1,746.4 1245.7,744.6 C1249.3,742.8 1255.0,741.3 1258.6,743.6 C1262.2,745.9 1263.5,759.3 1267.1,758.6 C1270.7,757.9 1276.4,742.2 1280.0,739.3 C1283.6,736.4 1286.1,742.8 1288.6,741.4 C1291.1,740.0 1292.2,732.1 1295.0,730.7 C1297.8,729.3 1301.1,735.4 1305.7,732.9 C1310.3,730.4 1318.6,714.3 1322.8,715.7 C1327.0,717.1 1329.6,737.1 1331.0,741.4" fill="none" stroke="#aaaaaa" stroke-width="2.0" stroke-linejoin="round" stroke-linecap="round" />
<path d="M452.9,838.6 C457.9,839.7 474.3,845.7 482.9,845.0 C491.5,844.3 497.2,835.0 504.3,834.3 C511.4,833.6 518.6,837.1 525.7,840.7 C532.8,844.3 540.0,850.7 547.1,855.7 C554.2,860.7 561.5,869.6 568.6,870.7 C575.8,871.8 582.9,864.2 590.0,862.1 C597.1,860.0 602.5,858.8 611.4,857.9 C620.3,857.0 632.8,857.1 643.6,856.8 C654.4,856.5 667.1,856.5 676.0,856.0 C684.9,855.5 686.4,854.9 697.1,853.6 C707.8,852.3 726.2,850.9 740.0,848.0 C753.8,845.1 770.0,839.2 780.0,836.0 C790.0,832.8 790.0,831.0 800.0,829.0 C810.0,827.0 826.7,824.5 840.0,824.0 C853.3,823.5 870.0,825.8 880.0,826.0 C890.0,826.2 893.3,827.0 900.0,825.0 C906.7,823.0 906.7,817.5 920.0,814.0 C933.3,810.5 953.3,805.7 980.0,804.0 C1006.7,802.3 1060.0,804.7 1080.0,804.0 C1100.0,803.3 1090.0,802.0 1100.0,800.0 C1110.0,798.0 1130.0,792.0 1140.0,792.0 C1150.0,792.0 1155.2,797.5 1160.0,800.0 C1164.8,802.5 1163.6,805.1 1168.6,806.8 C1173.6,808.5 1182.9,814.8 1190.0,810.0 C1197.1,805.2 1204.3,782.2 1211.4,777.9 C1218.5,773.6 1225.7,785.0 1232.8,784.3 C1239.9,783.6 1248.6,772.9 1254.3,773.6 C1260.0,774.3 1262.8,789.3 1267.1,788.6 C1271.4,787.9 1275.0,773.2 1280.0,769.3 C1285.0,765.4 1290.7,769.3 1297.1,765.0 C1303.5,760.7 1312.9,742.5 1318.6,743.6 C1324.2,744.7 1328.9,766.8 1331.0,771.4" fill="none" stroke="#aaaaaa" stroke-width="2.0" stroke-linejoin="round" stroke-linecap="round" />
<path d="M152.0,802.9 C152.5,803.4 153.4,802.5 155.0,806.1 C156.6,809.7 158.6,821.6 161.4,824.3 C164.2,827.0 168.5,822.3 172.1,822.1 C175.7,821.9 178.2,824.1 182.9,823.2 C187.6,822.3 196.1,820.2 200.0,816.8 C203.9,813.4 204.2,803.6 206.4,802.9 C208.6,802.2 210.4,811.6 212.9,812.5 C215.4,813.4 218.6,806.2 221.4,808.2 C224.2,810.2 226.8,823.8 230.0,824.3 C233.2,824.8 236.8,809.6 240.7,811.4 C244.6,813.2 249.7,829.3 253.6,835.0 C257.5,840.7 261.1,842.9 264.3,845.7 C267.5,848.6 269.6,851.4 272.8,852.1 C276.0,852.8 280.0,856.4 283.6,850.0 C287.2,843.6 291.8,822.7 294.3,813.6 C296.8,804.5 295.8,799.0 298.6,795.4 C301.5,791.8 308.2,793.9 311.4,792.1 C314.6,790.3 316.0,785.1 317.8,784.6 C319.6,784.1 319.6,787.6 322.1,788.9 C324.6,790.1 329.2,792.6 332.8,792.1 C336.4,791.6 340.0,788.6 343.6,785.7 C347.2,782.9 350.4,775.5 354.3,775.0 C358.2,774.5 362.5,778.9 367.1,782.5 C371.7,786.1 377.1,792.3 382.1,796.4 C387.1,800.5 391.7,803.2 397.1,807.1 C402.5,811.0 409.3,813.6 414.3,820.0 C419.3,826.4 422.8,837.5 427.1,845.7 C431.4,853.9 436.4,869.8 440.0,869.0 C443.6,868.2 445.8,847.9 448.6,840.7 C451.5,833.5 453.9,829.3 457.1,825.7 C460.3,822.1 464.3,820.5 467.9,819.3 C471.5,818.0 475.4,816.8 478.6,818.2 C481.8,819.6 484.2,823.8 487.1,827.9 C490.0,832.0 492.1,838.1 495.7,842.9 C499.3,847.7 503.6,855.4 508.6,856.8 C513.6,858.2 521.1,851.4 525.7,851.4 C530.3,851.4 532.1,853.2 536.4,856.8 C540.7,860.4 546.0,867.7 551.4,872.9 C556.8,878.1 562.2,885.3 568.6,887.8 C575.0,890.3 580.0,889.2 590.0,887.8 C600.0,886.4 619.7,883.2 628.6,879.3 C637.5,875.4 638.2,868.9 643.6,864.3 C649.0,859.6 656.1,851.4 660.7,851.4 C665.3,851.4 667.5,861.4 671.4,864.3 C675.3,867.2 681.1,866.8 684.3,868.6 C687.5,870.4 688.2,877.9 690.7,875.0 C693.2,872.1 696.4,859.6 699.3,851.4 C702.1,843.2 704.9,827.5 707.8,825.7 C710.6,823.9 713.5,835.5 716.4,840.7 C719.3,845.9 721.1,853.7 725.0,856.8 C728.9,859.9 736.5,862.1 740.0,859.3 C743.5,856.5 744.0,841.9 746.0,840.0 C748.0,838.1 749.0,845.8 752.0,848.0 C755.0,850.2 760.7,853.0 764.0,853.0 C767.3,853.0 769.3,851.5 772.0,848.0 C774.7,844.5 775.3,838.3 780.0,832.0 C784.7,825.7 793.3,814.5 800.0,810.0 C806.7,805.5 813.3,806.7 820.0,805.0 C826.7,803.3 833.3,802.0 840.0,800.0 C846.7,798.0 853.7,795.5 860.0,793.0 C866.3,790.5 873.3,784.5 878.0,785.0 C882.7,785.5 885.7,792.8 888.0,796.0 C890.3,799.2 890.0,803.3 892.0,804.0 C894.0,804.7 895.3,805.3 900.0,800.0 C904.7,794.7 914.7,775.7 920.0,772.0 C925.3,768.3 925.3,772.7 932.0,778.0 C938.7,783.3 954.0,800.3 960.0,804.0 C966.0,807.7 965.0,809.0 968.0,800.0 C971.0,791.0 975.3,758.0 978.0,750.0 C980.7,742.0 980.3,745.0 984.0,752.0 C987.7,759.0 996.0,785.3 1000.0,792.0 C1004.0,798.7 1002.0,796.3 1008.0,792.0 C1014.0,787.7 1029.7,769.7 1036.0,766.0 C1042.3,762.3 1042.3,765.7 1046.0,770.0 C1049.7,774.3 1055.0,789.3 1058.0,792.0 C1061.0,794.7 1061.0,793.3 1064.0,786.0 C1067.0,778.7 1071.0,756.7 1076.0,748.0 C1081.0,739.3 1091.0,736.3 1094.0,734.0" fill="none" stroke="#4e4e4e" stroke-width="2.3" stroke-linejoin="round" stroke-linecap="round" />
<path d="M152.0,828.6 C153.6,832.0 158.1,846.0 161.4,848.9 C164.8,851.8 168.5,845.9 172.1,845.7 C175.7,845.5 178.2,848.5 182.9,847.8 C187.6,847.1 196.1,845.7 200.0,841.4 C203.9,837.1 204.2,823.0 206.4,822.1 C208.6,821.2 210.4,834.9 212.9,836.1 C215.4,837.4 218.2,828.0 221.4,829.6 C224.6,831.2 228.5,845.0 232.1,845.7 C235.7,846.4 239.3,832.5 242.9,833.9 C246.5,835.3 250.0,848.4 253.6,854.3 C257.2,860.2 261.1,865.4 264.3,869.3 C267.5,873.2 269.6,878.6 272.8,877.9 C276.0,877.2 280.0,872.5 283.6,865.0 C287.2,857.5 291.8,840.2 294.3,832.9 C296.8,825.6 294.7,824.0 298.6,821.1 C302.5,818.2 313.9,817.3 317.8,815.7 C321.7,814.1 319.6,811.2 322.1,811.4 C324.6,811.6 329.2,817.0 332.8,816.8 C336.4,816.6 340.0,813.3 343.6,810.4 C347.2,807.5 350.4,800.3 354.3,799.6 C358.2,798.9 362.5,802.4 367.1,806.1 C371.7,809.9 377.1,818.0 382.1,822.1 C387.1,826.2 391.7,825.7 397.1,830.7 C402.5,835.7 409.3,844.6 414.3,852.1 C419.3,859.6 422.8,868.7 427.1,875.7 C431.4,882.7 436.4,895.5 440.0,894.0 C443.6,892.5 445.8,873.1 448.6,866.4 C451.5,859.7 453.2,856.8 457.1,853.6 C461.0,850.4 468.2,848.0 472.1,847.1 C476.0,846.2 477.8,846.1 480.7,848.2 C483.6,850.4 486.4,855.7 489.3,860.0 C492.2,864.3 494.7,870.5 497.9,873.9 C501.1,877.3 504.0,880.6 508.6,880.4 C513.2,880.2 521.1,873.6 525.7,872.9 C530.3,872.2 531.8,872.2 536.4,876.1 C541.0,880.0 548.2,890.5 553.6,896.4 C559.0,902.3 562.5,909.6 568.6,911.4 C574.7,913.2 580.4,908.9 590.0,907.1 C599.6,905.3 617.5,904.1 626.4,900.7 C635.3,897.3 637.9,890.9 643.6,886.8 C649.3,882.7 656.1,876.1 660.7,876.1 C665.3,876.1 666.4,883.0 671.4,886.8 C676.4,890.5 686.1,900.6 690.7,898.6 C695.4,896.6 696.1,882.9 699.3,875.0 C702.5,867.1 706.8,852.1 710.0,851.4 C713.2,850.7 715.8,865.7 718.6,870.7 C721.5,875.7 723.5,880.1 727.1,881.4 C730.7,882.7 736.9,881.8 740.0,878.6 C743.1,875.4 744.0,863.3 746.0,862.0 C748.0,860.7 748.3,868.7 752.0,871.0 C755.7,873.3 764.3,877.8 768.0,876.0 C771.7,874.2 771.0,863.0 774.0,860.0 C777.0,857.0 781.7,861.3 786.0,858.0 C790.3,854.7 796.0,844.0 800.0,840.0 C804.0,836.0 803.3,835.7 810.0,834.0 C816.7,832.3 831.7,832.0 840.0,830.0 C848.3,828.0 853.7,824.8 860.0,822.0 C866.3,819.2 873.3,812.7 878.0,813.0 C882.7,813.3 885.7,820.8 888.0,824.0 C890.3,827.2 886.7,835.7 892.0,832.0 C897.3,828.3 913.3,806.3 920.0,802.0 C926.7,797.7 924.7,800.7 932.0,806.0 C939.3,811.3 957.0,834.3 964.0,834.0 C971.0,833.7 971.3,813.3 974.0,804.0 C976.7,794.7 977.7,781.0 980.0,778.0 C982.3,775.0 984.7,779.0 988.0,786.0 C991.3,793.0 996.7,814.3 1000.0,820.0 C1003.3,825.7 1002.0,824.0 1008.0,820.0 C1014.0,816.0 1029.7,799.3 1036.0,796.0 C1042.3,792.7 1042.3,795.7 1046.0,800.0 C1049.7,804.3 1055.0,819.0 1058.0,822.0 C1061.0,825.0 1061.0,825.0 1064.0,818.0 C1067.0,811.0 1070.7,789.0 1076.0,780.0 C1081.3,771.0 1092.7,766.7 1096.0,764.0" fill="none" stroke="#4e4e4e" stroke-width="2.3" stroke-linejoin="round" stroke-linecap="round" />
<path d="M851.4,720.0 C853.5,720.5 860.0,724.5 864.3,723.2 C868.6,722.0 872.8,711.6 877.1,712.5 C881.4,713.4 883.2,730.4 890.0,728.6 C896.8,726.8 906.7,699.5 917.8,701.8 C928.9,704.1 948.2,736.6 956.4,742.5 C964.6,748.4 963.9,743.0 967.1,737.1 C970.3,731.2 974.3,712.1 975.7,707.1" fill="none" stroke="#383838" stroke-width="2.6" stroke-linejoin="round" stroke-linecap="round" />
<path d="M851.4,729.6 C853.5,730.2 860.0,734.2 864.3,732.9 C868.6,731.7 872.8,721.2 877.1,722.1 C881.4,723.0 883.2,739.6 890.0,738.2 C896.8,736.8 906.7,710.9 917.8,713.6 C928.9,716.3 948.2,748.2 956.4,754.3 C964.6,760.4 963.9,755.7 967.1,750.0 C970.3,744.3 974.3,725.0 975.7,720.0" fill="none" stroke="#383838" stroke-width="2.6" stroke-linejoin="round" stroke-linecap="round" />
<path d="M851.4,745.7 C853.5,746.2 860.0,749.8 864.3,748.9 C868.6,748.0 872.8,739.3 877.1,740.4 C881.4,741.5 883.2,757.2 890.0,755.4 C896.8,753.6 906.7,726.9 917.8,729.6 C928.9,732.3 948.2,765.1 956.4,771.4 C964.6,777.6 963.9,773.5 967.1,767.1 C970.3,760.7 974.3,738.6 975.7,732.9" fill="none" stroke="#383838" stroke-width="2.6" stroke-linejoin="round" stroke-linecap="round" />
<path d="M851.4,763.9 C853.5,765.0 860.0,771.3 864.3,770.4 C868.6,769.5 872.8,757.7 877.1,758.6 C881.4,759.5 883.2,777.3 890.0,775.7 C896.8,774.1 906.7,746.6 917.8,748.9 C928.9,751.2 948.2,783.4 956.4,789.6 C964.6,795.9 963.9,792.3 967.1,786.4 C970.3,780.5 974.3,759.7 975.7,754.3" fill="none" stroke="#383838" stroke-width="2.6" stroke-linejoin="round" stroke-linecap="round" />
<path d="M152.0,867.1 C152.5,867.8 153.8,867.8 155.0,871.4 C156.2,875.0 157.5,880.0 159.3,888.6 C161.1,897.2 163.6,920.3 165.7,922.8 C167.8,925.3 169.6,904.3 172.1,903.6 C174.6,902.9 177.5,919.7 180.7,918.6 C183.9,917.5 188.9,898.9 191.4,897.1 C193.9,895.3 193.5,907.4 195.7,907.8 C197.8,908.2 202.2,907.9 204.3,899.3 C206.5,890.7 207.2,857.5 208.6,856.4 C210.0,855.3 210.8,890.3 212.9,892.8 C215.0,895.3 219.3,874.2 221.4,871.4 C223.5,868.5 223.9,872.8 225.7,875.7 C227.5,878.6 229.9,886.1 232.1,888.6 C234.2,891.1 236.4,889.3 238.6,890.7 C240.8,892.1 242.9,894.6 245.0,897.1 C247.1,899.6 248.6,904.3 251.4,905.7 C254.2,907.1 259.6,904.3 262.1,905.7 C264.6,907.1 263.9,909.6 266.4,914.3 C268.9,918.9 274.6,931.5 277.1,933.6 C279.6,935.7 279.2,931.8 281.4,927.1 C283.5,922.5 287.1,911.8 290.0,905.7 C292.9,899.6 295.0,893.6 298.6,890.7 C302.2,887.9 306.8,890.0 311.4,888.6 C316.0,887.2 322.5,884.1 326.4,882.1 C330.3,880.1 332.1,877.1 335.0,876.8 C337.9,876.4 340.4,881.6 343.6,880.0 C346.8,878.4 350.7,869.8 354.3,867.1 C357.9,864.4 360.7,864.6 365.0,863.9 C369.3,863.2 376.4,858.7 380.0,862.8 C383.6,866.9 384.6,886.5 386.4,888.6 C388.2,890.8 388.9,875.7 390.7,875.7 C392.5,875.7 394.6,885.0 397.1,888.6 C399.6,892.2 402.1,894.2 405.7,897.1 C409.3,900.0 414.3,900.3 418.6,905.7 C422.9,911.1 427.8,924.4 431.4,929.3 C435.0,934.2 436.8,939.4 440.0,935.0 C443.2,930.6 447.1,906.8 450.7,902.9 C454.3,899.0 457.8,907.6 461.4,911.4 C465.0,915.1 468.5,925.4 472.1,925.4 C475.7,925.4 480.0,914.4 482.9,911.4 C485.8,908.4 486.8,905.3 489.3,907.1 C491.8,908.9 495.8,922.1 497.9,922.1 C500.0,922.1 500.3,907.8 502.1,907.1 C503.9,906.4 504.7,917.8 508.6,917.8 C512.5,917.8 521.4,908.2 525.7,907.1 C530.0,906.0 531.4,908.5 534.3,911.4 C537.2,914.3 539.7,919.3 542.9,924.3 C546.1,929.3 551.1,940.0 553.6,941.4 C556.1,942.8 555.3,931.7 557.8,932.8 C560.3,933.9 565.7,944.8 568.6,947.8 C571.5,950.8 571.4,951.8 575.0,951.1 C578.6,950.4 585.7,946.3 590.0,943.6 C594.3,940.9 595.4,937.1 600.7,935.0 C606.1,932.9 616.8,931.2 622.1,930.7 C627.5,930.2 628.9,931.1 632.8,931.8 C636.7,932.5 640.7,935.9 645.7,935.0 C650.7,934.1 658.5,926.2 662.8,926.4 C667.1,926.6 667.5,935.6 671.4,936.1 C675.3,936.6 682.1,931.6 686.4,929.6 C690.7,927.6 692.8,926.3 697.1,924.3 C701.4,922.3 707.8,915.7 712.1,917.8 C716.4,919.9 718.9,936.0 722.8,937.1 C726.7,938.2 732.8,926.8 735.7,924.3 C738.6,921.8 738.6,926.9 740.0,922.1 C741.4,917.3 742.9,897.6 744.3,895.7 C745.7,893.8 745.8,907.1 748.6,910.7 C751.5,914.3 757.5,918.5 761.4,917.1 C765.3,915.7 768.5,903.5 772.1,902.1 C775.7,900.7 777.5,909.1 782.9,908.6 C788.3,908.1 791.8,901.4 804.3,898.9 C816.8,896.4 845.4,893.8 857.9,893.6 C870.4,893.4 866.8,898.5 879.3,897.8 C891.8,897.1 920.3,891.6 932.8,889.3 C945.3,887.0 947.1,886.0 954.3,883.9 C961.4,881.8 968.6,877.3 975.7,876.4 C982.8,875.5 991.4,878.8 997.1,878.6 C1002.8,878.4 1005.7,874.8 1010.0,875.3 C1014.3,875.8 1017.8,880.9 1022.8,881.8 C1027.8,882.7 1034.6,879.6 1040.0,880.7 C1045.4,881.8 1049.7,887.7 1055.0,888.2 C1060.3,888.7 1065.7,884.8 1072.1,883.9 C1078.5,883.0 1088.2,883.6 1093.6,882.9 C1099.0,882.2 1097.2,881.4 1104.3,879.6 C1111.4,877.8 1130.0,873.5 1136.4,872.1 C1142.8,870.7 1140.0,870.6 1142.9,871.0 C1145.8,871.4 1149.3,872.3 1153.6,874.3 C1157.9,876.3 1165.4,879.9 1168.6,882.9 C1171.8,885.9 1170.7,891.6 1172.8,892.5 C1174.9,893.4 1178.5,888.0 1181.4,888.2 C1184.3,888.4 1186.8,895.6 1190.0,893.6 C1193.2,891.6 1197.1,882.1 1200.7,876.4 C1204.3,870.7 1206.8,862.7 1211.4,859.3 C1216.1,855.9 1224.3,854.7 1228.6,856.1 C1232.9,857.5 1234.2,868.0 1237.1,867.8 C1239.9,867.6 1242.1,857.7 1245.7,855.0 C1249.3,852.3 1255.0,848.6 1258.6,851.8 C1262.2,855.0 1263.9,874.1 1267.1,874.3 C1270.3,874.5 1274.3,856.8 1277.9,852.9 C1281.5,849.0 1285.9,853.2 1288.6,850.7 C1291.3,848.2 1292.0,838.1 1293.9,837.8 C1295.9,837.4 1297.6,847.7 1300.3,848.6 C1303.0,849.5 1307.0,846.6 1310.0,843.2 C1313.0,839.8 1316.1,830.9 1318.6,828.2 C1321.1,825.5 1322.5,823.0 1325.0,827.1 C1327.5,831.2 1331.4,849.1 1333.6,852.9 C1335.8,856.7 1337.3,850.5 1338.0,850.0" fill="none" stroke="#4e4e4e" stroke-width="2.4" stroke-linejoin="round" stroke-linecap="round" />
<polyline points="159.0,1220.0 167.9,1228.6 197.9,1223.2 212.9,1215.7 227.9,1215.7 251.4,1222.1 268.6,1225.4 281.4,1229.6 305.0,1218.9 347.9,1215.7 380.0,1212.5 390.7,1214.6 422.9,1222.1 455.0,1222.1 535.7,1222.9 621.4,1225.7 735.7,1224.3 750.0,1218.6 792.9,1218.6 850.0,1215.7 992.9,1212.1 1100.0,1209.3 1207.1,1203.9 1278.6,1201.4 1314.3,1196.8 1328.6,1196.8 1342.9,1205.7" fill="none" stroke="#aaaaaa" stroke-width="2.0" stroke-linejoin="round" stroke-linecap="round" />
<polyline points="159.3,1480.0 161.0,1502.8 164.6,1522.1 167.9,1415.0 172.1,1372.1 176.4,1419.3 187.1,1372.1 195.7,1412.8 201.1,1378.6 205.4,1395.7 210.7,1385.0 216.1,1483.6 220.4,1391.4 228.9,1432.1 237.5,1367.8 241.8,1374.3 249.3,1349.6 254.6,1305.7 258.9,1318.6 263.2,1295.0 267.5,1301.4 271.8,1239.3 279.3,1231.8 284.6,1246.8 288.9,1240.4 295.3,1284.3 305.0,1322.8 313.6,1314.3 317.8,1323.9 330.7,1325.0 337.1,1344.3 343.6,1346.4 350.0,1325.0 360.7,1355.0 367.1,1359.3 373.6,1350.7 386.4,1357.1 390.7,1292.9 397.1,1329.3 403.6,1295.0 410.0,1271.4 416.4,1267.1 427.1,1247.9 431.4,1228.6 450.0,1228.0 452.9,1241.4 457.1,1265.7 462.9,1244.3 470.0,1230.0 481.4,1225.7 495.7,1257.1 501.4,1225.7 507.1,1260.0 512.9,1232.9 524.3,1252.9 532.9,1258.6 538.6,1245.7 544.3,1244.3 548.6,1227.1 564.3,1228.6 578.6,1232.9 598.6,1228.6 672.9,1226.6 701.4,1225.7 707.1,1235.7 715.7,1241.4 721.4,1228.6 738.6,1225.7 742.9,1235.7 745.7,1224.3 748.6,1258.6 751.4,1298.6 754.3,1255.7 758.6,1258.6 767.1,1240.0 772.9,1241.4 781.4,1278.6 790.0,1254.3 798.6,1262.9 807.1,1272.9 821.4,1277.1 835.7,1274.3 850.0,1273.6 864.3,1277.1 878.6,1264.6 889.3,1257.5 903.6,1259.3 921.4,1262.9 942.9,1259.3 951.8,1270.0 971.4,1259.3 985.7,1275.4 1007.1,1261.1 1014.3,1268.2 1025.0,1245.0 1042.9,1239.6 1057.1,1220.0 1071.4,1225.4 1085.7,1220.0 1096.4,1214.6 1107.1,1220.0 1121.4,1216.4 1135.7,1216.4 1146.4,1223.6 1157.1,1211.1 1200.0,1209.3 1210.7,1207.5 1214.3,1223.6 1232.1,1223.6 1239.3,1205.7 1250.0,1205.7 1257.1,1216.4 1267.9,1207.5 1278.6,1205.7 1285.7,1203.9 1294.6,1202.1 1299.3,1234.3 1302.9,1203.9 1307.1,1212.9 1314.3,1212.9 1328.6,1252.1 1333.9,1203.9 1339.3,1202.1 1342.9,1209.3" fill="none" stroke="#4e4e4e" stroke-width="2.0" stroke-linejoin="round" stroke-linecap="round" />
<polyline points="277.1,1729.3 281.4,1752.1 285.7,1822.9 288.9,1762.9 290.0,1729.1" fill="none" stroke="#505050" stroke-width="1.7" stroke-linejoin="round" stroke-linecap="round" />
<polyline points="433.6,1727.5 437.9,1745.7 441.0,1816.4 444.3,1891.4 446.4,1807.9 448.6,1831.4 452.9,1912.9 455.0,1983.6 456.1,1848.6 457.1,1727.2" fill="none" stroke="#505050" stroke-width="1.7" stroke-linejoin="round" stroke-linecap="round" />
<polyline points="476.4,1727.0 483.9,1780.0 493.6,1726.8" fill="none" stroke="#505050" stroke-width="1.7" stroke-linejoin="round" stroke-linecap="round" />
<polyline points="504.3,1726.7 508.6,1746.8 512.9,1726.6 519.3,1735.0 522.0,1726.5" fill="none" stroke="#505050" stroke-width="1.7" stroke-linejoin="round" stroke-linecap="round" />
<polyline points="548.2,1726.2 552.7,1747.2 557.2,1770.8 560.0,1828.9 561.8,1883.3 563.6,1937.8 565.4,2017.6 567.2,1937.8 568.7,1818.0 570.8,1883.3 573.6,1955.9 578.1,2046.7 582.6,2092.0 587.2,2101.1 590.8,2093.9 594.4,2046.7 598.1,1997.7 602.6,2012.2 604.4,1937.8 606.2,1865.2 610.8,1828.9 616.2,1814.4 619.9,1807.1 622.6,1787.2 627.1,1807.1 631.7,1761.7 636.2,1823.4 639.8,1779.9 644.4,1765.4 648.9,1789.0 654.3,1847.0 659.8,1792.6 667.0,1758.1 672.5,1724.7 677.9,1774.4 682.5,1838.0 687.0,1792.6 693.4,1750.9 702.4,1783.5 705.2,1756.3 708.8,1724.3 725.1,1724.1 728.7,1792.6 734.2,1847.0 736.0,1792.6 738.7,1741.8 745.1,1736.3 748.7,1723.9 752.3,1732.7 756.0,1723.8" fill="none" stroke="#505050" stroke-width="1.7" stroke-linejoin="round" stroke-linecap="round" />
<polyline points="1163.2,1719.1 1165.1,1747.6 1168.8,1775.9 1178.2,1811.6 1179.2,1879.4 1181.0,1954.6 1183.9,2011.1 1185.8,2058.1 1187.6,1982.9 1193.3,1941.5 1198.0,1958.4 1200.8,2011.1 1203.6,2067.5 1205.1,2112.0 1206.5,2011.1 1207.4,1898.2 1209.3,1766.5 1214.0,1747.6 1219.6,1721.3 1223.4,1718.4 1224.3,1728.8 1226.0,1718.4" fill="none" stroke="#505050" stroke-width="1.7" stroke-linejoin="round" stroke-linecap="round" />
<polyline points="1241.3,1718.2 1246.0,1757.0 1251.6,1822.9 1253.5,1766.5 1255.4,1718.1" fill="none" stroke="#505050" stroke-width="1.7" stroke-linejoin="round" stroke-linecap="round" />
<polyline points="1269.5,1717.9 1272.3,1822.9 1278.0,1935.8 1282.7,2020.5 1285.5,1898.2 1289.3,1766.5 1290.2,1717.7" fill="none" stroke="#505050" stroke-width="1.7" stroke-linejoin="round" stroke-linecap="round" />
<polyline points="1294.9,1717.6 1299.6,1730.7 1304.3,1717.5" fill="none" stroke="#505050" stroke-width="1.7" stroke-linejoin="round" stroke-linecap="round" />
<polyline points="1335.4,1717.2 1338.2,1766.5 1341.9,1841.7 1345.7,1898.2 1346.6,1935.8 1348.5,1850.0 1349.5,1717.0" fill="none" stroke="#505050" stroke-width="1.7" stroke-linejoin="round" stroke-linecap="round" />
<text transform="rotate(-0.720 701.8 51.6) translate(470.91 62.89) scale(1.0240 1)" font-size="43.65" fill="#353535">Depth of internal layers</text>
<text transform="rotate(-0.720 99.3 90.2) translate(66.74 102.54) scale(1.0922 1)" font-size="35.76" fill="#353535">500</text>
<g transform="rotate(-0.720 97.8 246.3) translate(53.35 258.64) scale(1.1013 1)" fill="#353535">
<text font-size="35.76"> 000</text>
<polygon points="12.16,0.00 12.16,-25.35 9.73,-25.35 8.94,-23.78 7.33,-22.35 4.83,-21.10 3.40,-20.74 3.40,-18.24 6.08,-19.13 9.03,-20.56 9.03,0.00"/>
</g>
<g transform="rotate(-0.720 98.5 402.2) translate(51.48 414.74) scale(1.1455 1)" fill="#353535">
<text font-size="36.33"> 500</text>
<polygon points="12.35,0.00 12.35,-25.75 9.88,-25.75 9.08,-24.16 7.45,-22.70 4.90,-21.43 3.45,-21.07 3.45,-18.53 6.18,-19.43 9.17,-20.89 9.17,0.00"/>
</g>
<text transform="rotate(-0.720 100.8 558.6) translate(56.31 570.55) scale(1.1464 1)" font-size="34.77" fill="#353535">2000</text>
<text transform="rotate(-0.720 103.1 714.5) translate(58.40 726.75) scale(1.1275 1)" font-size="35.48" fill="#353535">2500</text>
<text transform="rotate(-0.720 105.2 871.0) translate(61.22 883.63) scale(1.0771 1)" font-size="36.75" fill="#353535">3000</text>
<text transform="rotate(-0.720 106.8 1026.8) translate(64.26 1039.63) scale(1.0270 1)" font-size="37.31" fill="#353535">3500</text>
<text transform="rotate(-0.720 157.7 1048.8) translate(147.54 1060.37) scale(1.0878 1)" font-size="33.50" fill="#353535">0</text>
<g transform="rotate(-0.720 394.0 1046.3) translate(362.20 1058.64) scale(1.0389 1)" fill="#353535">
<text font-size="35.90"> 00</text>
<polygon points="12.21,0.00 12.21,-25.45 9.77,-25.45 8.98,-23.87 7.36,-22.44 4.85,-21.18 3.41,-20.82 3.41,-18.31 6.10,-19.21 9.07,-20.64 9.07,0.00"/>
</g>
<text transform="rotate(-0.720 635.9 1043.3) translate(606.23 1055.64) scale(0.9837 1)" font-size="35.90" fill="#353535">200</text>
<text transform="rotate(-0.720 872.0 1040.5) translate(839.02 1053.62) scale(1.0366 1)" font-size="38.16" fill="#353535">300</text>
<text transform="rotate(-0.720 1109.2 1037.9) translate(1080.21 1050.39) scale(0.9657 1)" font-size="36.40" fill="#353535">400</text>
<text transform="rotate(-0.720 1342.5 1035.0) translate(1310.99 1047.15) scale(1.0679 1)" font-size="35.34" fill="#353535">500</text>
<text transform="rotate(-0.720 126.6 1185.4) translate(104.24 1197.80) scale(1.1078 1)" font-size="35.41" fill="#353535">−2</text>
<text transform="rotate(-0.720 128.9 1283.7) translate(106.55 1296.04) scale(1.0849 1)" font-size="35.90" fill="#353535">−3</text>
<text transform="rotate(-0.720 129.7 1382.3) translate(107.38 1395.00) scale(1.0394 1)" font-size="36.95" fill="#353535">−4</text>
<text transform="rotate(-0.720 130.4 1479.7) translate(108.05 1492.42) scale(1.0370 1)" font-size="37.56" fill="#353535">−5</text>
<text transform="rotate(-0.720 131.4 1581.4) translate(109.05 1593.94) scale(1.0723 1)" font-size="36.33" fill="#353535">−6</text>
<text transform="rotate(-0.720 164.0 1604.0) translate(153.49 1616.63) scale(1.0258 1)" font-size="36.75" fill="#353535">0</text>
<g transform="rotate(-0.720 400.0 1602.2) translate(367.11 1614.64) scale(1.0622 1)" fill="#353535">
<text font-size="36.33"> 00</text>
<polygon points="12.35,0.00 12.35,-25.75 9.88,-25.75 9.08,-24.16 7.45,-22.70 4.90,-21.43 3.45,-21.07 3.45,-18.53 6.18,-19.43 9.17,-20.89 9.17,0.00"/>
</g>
<text transform="rotate(-0.720 642.1 1599.2) translate(612.54 1611.64) scale(0.9705 1)" font-size="36.33" fill="#353535">200</text>
<text transform="rotate(-0.720 877.9 1596.2) translate(844.29 1609.03) scale(1.0763 1)" font-size="37.46" fill="#353535">300</text>
<text transform="rotate(-0.720 1115.0 1592.5) translate(1086.73 1604.65) scale(0.9683 1)" font-size="35.34" fill="#353535">400</text>
<text transform="rotate(-0.720 1348.8 1590.0) translate(1318.55 1602.15) scale(1.0234 1)" font-size="35.34" fill="#353535">500</text>
<text transform="rotate(-0.720 132.0 1727.5) translate(120.56 1739.65) scale(1.1663 1)" font-size="35.19" fill="#353535">0</text>
<text transform="rotate(-0.720 129.4 1788.5) translate(106.82 1801.60) scale(1.0587 1)" font-size="37.42" fill="#353535">−2</text>
<text transform="rotate(-0.720 129.6 1849.8) translate(107.72 1861.60) scale(1.0967 1)" font-size="34.33" fill="#353535">−4</text>
<text transform="rotate(-0.720 130.0 1910.2) translate(107.65 1923.13) scale(1.0399 1)" font-size="37.46" fill="#353535">−6</text>
<text transform="rotate(-0.720 130.8 1971.7) translate(108.78 1983.55) scale(1.1082 1)" font-size="34.63" fill="#353535">−8</text>
<g transform="rotate(-0.720 129.4 2031.0) translate(97.32 2042.85) scale(1.0850 1)" fill="#353535">
<text font-size="34.63">− 0</text>
<polygon points="32.00,0.00 32.00,-24.55 29.64,-24.55 28.88,-23.03 27.32,-21.64 24.90,-20.43 23.51,-20.08 23.51,-17.66 26.11,-18.53 28.97,-19.91 28.97,0.00"/>
</g>
<g transform="rotate(-0.720 129.4 2092.4) translate(97.31 2104.70) scale(1.0781 1)" fill="#353535">
<text font-size="35.13">− 2</text>
<polygon points="32.46,0.00 32.46,-24.90 30.07,-24.90 29.29,-23.36 27.71,-21.95 25.25,-20.72 23.85,-20.37 23.85,-17.91 26.48,-18.79 29.38,-20.20 29.38,0.00"/>
</g>
<text transform="rotate(-0.720 169.8 2145.2) translate(158.36 2157.15) scale(1.1853 1)" font-size="34.63" fill="#353535">0</text>
<g transform="rotate(-0.720 406.4 2141.1) translate(373.51 2153.54) scale(1.0622 1)" fill="#353535">
<text font-size="36.33"> 00</text>
<polygon points="12.35,0.00 12.35,-25.75 9.88,-25.75 9.08,-24.16 7.45,-22.70 4.90,-21.43 3.45,-21.07 3.45,-18.53 6.18,-19.43 9.17,-20.89 9.17,0.00"/>
</g>
<text transform="rotate(-0.720 648.2 2140.4) translate(619.70 2151.28) scale(1.0763 1)" font-size="31.52" fill="#353535">200</text>
<text transform="rotate(-0.720 886.0 2137.5) translate(853.54 2148.67) scale(1.1976 1)" font-size="32.51" fill="#353535">300</text>
<text transform="rotate(-0.720 1121.2 2134.2) translate(1092.98 2145.67) scale(1.0301 1)" font-size="33.22" fill="#353535">400</text>
<text transform="rotate(-0.720 1355.0 2132.2) translate(1323.49 2144.15) scale(1.0897 1)" font-size="34.63" fill="#353535">500</text>
<text transform="rotate(-0.720 783.5 2172.1) translate(499.73 2181.26) scale(1.0335 1)" font-size="35.39" fill="#353535">Distance along NNW ice ridge [km]</text>
<text transform="rotate(-0.720 36.0 538.9) translate(46.16 617.90) rotate(-90) scale(0.9085 0.9812)" font-size="40.00" fill="#353535">Depth [m]</text>
<text transform="rotate(-0.720 85.7 1379.8) translate(95.90 1595.04) rotate(-90) scale(0.9212 0.9853)" font-size="40.00" fill="#353535">Basal temperature [deg C]</text>
<text transform="rotate(-0.720 91.7 1895.9) translate(102.05 2012.43) rotate(-90) scale(0.9179 1.0000)" font-size="40.00" fill="#353535">Basal melt [m]</text>
<text transform="rotate(-0.720 241.2 947.2) translate(176.13 959.17) scale(1.0418 1)" font-size="33.33" fill="#353535">Bedrock</text>
<text transform="rotate(-0.720 933.9 955.0) translate(872.54 967.53) scale(1.0476 1)" font-size="36.61" fill="#353535">NGRIP</text>
<text transform="rotate(-0.720 941.9 1502.7) translate(880.64 1515.91) scale(0.9930 1)" font-size="38.59" fill="#353535">NGRIP</text>
<text transform="rotate(-0.720 947.8 2047.2) translate(886.44 2059.74) scale(1.0558 1)" font-size="36.33" fill="#353535">NGRIP</text>
<text transform="rotate(-0.720 1285.8 961.0) translate(1266.24 978.82) scale(0.9625 1)" font-size="67.58" fill="#353535">a</text>
<text transform="rotate(-0.720 1293.0 1507.9) translate(1271.09 1531.34) scale(1.1509 1)" font-size="65.65" fill="#353535">b</text>
<text transform="rotate(-0.720 1296.5 2058.0) translate(1277.94 2075.34) scale(1.0964 1)" font-size="65.75" fill="#353535">c</text>
</g>
</svg></body></html>
